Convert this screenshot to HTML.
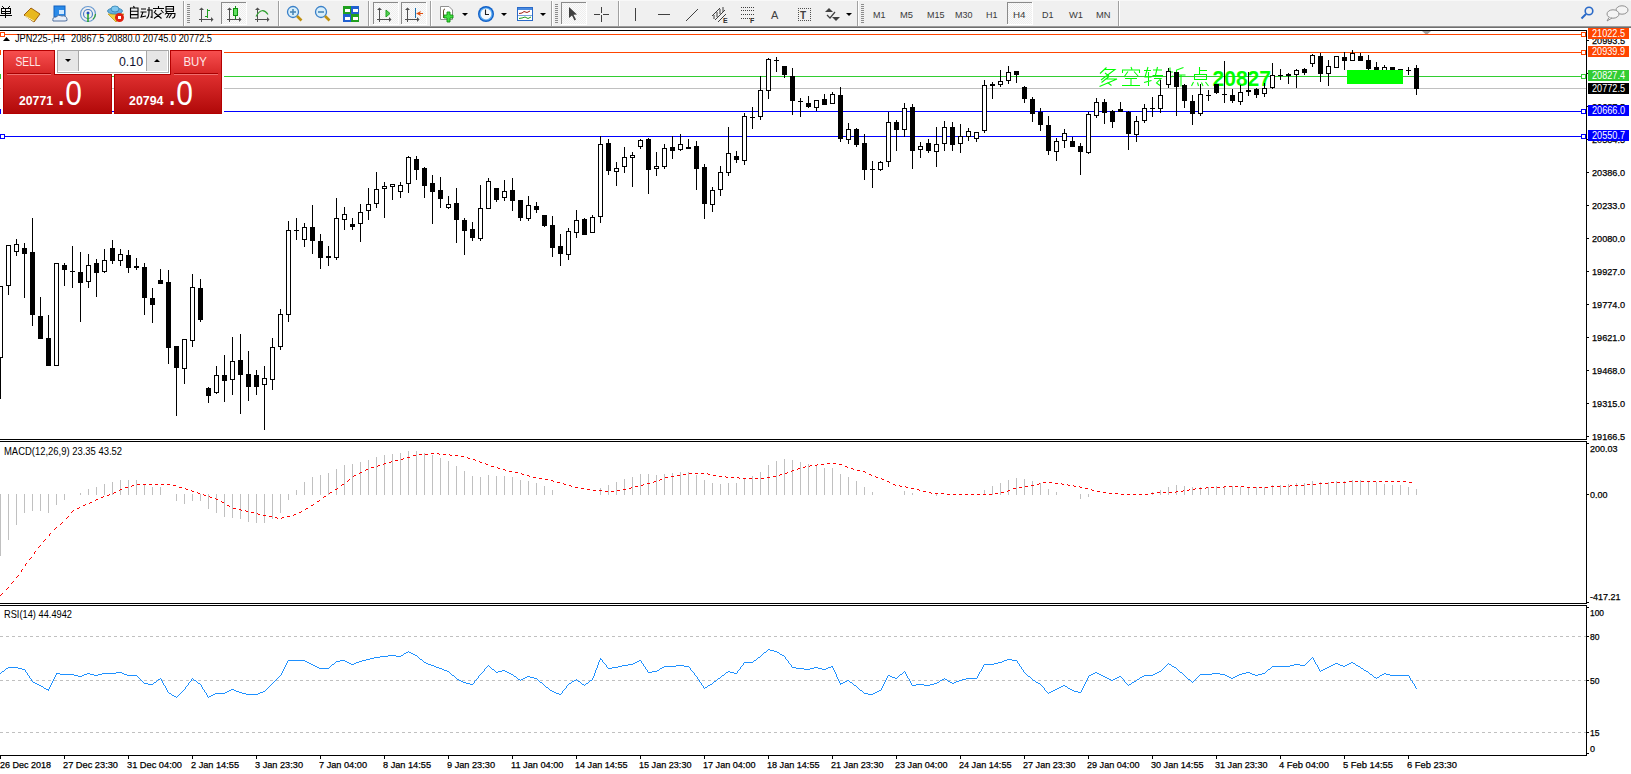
<!DOCTYPE html>
<html><head><meta charset="utf-8">
<style>
html,body{margin:0;padding:0;background:#fff;width:1631px;height:774px;overflow:hidden}
svg{position:absolute;left:0;top:0;display:block}
text{font-family:'Liberation Sans',sans-serif}
.ax text{stroke:#000;stroke-width:0.25px}
</style></head><body>
<svg width="1631" height="774" viewBox="0 0 1631 774" shape-rendering="crispEdges">

<rect x="0" y="0" width="1631" height="26" fill="#f0f0f0"/>
<rect x="0" y="0" width="1631" height="1" fill="#f8f8f8"/>
<rect x="0" y="26" width="1631" height="1" fill="#9a9a9a"/>
<rect x="0" y="27" width="1631" height="1" fill="#6e6e6e"/>
<defs><pattern id="chk" x="0" y="0" width="2" height="2" patternUnits="userSpaceOnUse"><rect width="2" height="2" fill="#fbfbfb"/><rect width="1" height="1" fill="#eeeeee"/><rect x="1" y="1" width="1" height="1" fill="#eeeeee"/></pattern></defs>
<rect x="183" y="1" width="1" height="25" fill="#a0a0a0"/><rect x="184" y="1" width="1" height="25" fill="#ffffff"/>
<rect x="278" y="1" width="1" height="25" fill="#a0a0a0"/><rect x="279" y="1" width="1" height="25" fill="#ffffff"/>
<rect x="368" y="1" width="1" height="25" fill="#a0a0a0"/><rect x="369" y="1" width="1" height="25" fill="#ffffff"/>
<rect x="430" y="1" width="1" height="25" fill="#a0a0a0"/><rect x="431" y="1" width="1" height="25" fill="#ffffff"/>
<rect x="551" y="1" width="1" height="25" fill="#a0a0a0"/><rect x="552" y="1" width="1" height="25" fill="#ffffff"/>
<rect x="618" y="1" width="1" height="25" fill="#a0a0a0"/><rect x="619" y="1" width="1" height="25" fill="#ffffff"/>
<rect x="857" y="1" width="1" height="25" fill="#a0a0a0"/><rect x="858" y="1" width="1" height="25" fill="#ffffff"/>
<rect x="1118" y="1" width="1" height="25" fill="#a0a0a0"/><rect x="1119" y="1" width="1" height="25" fill="#ffffff"/>
<rect x="187" y="4" width="3" height="1" fill="#8c8c8c"/>
<rect x="187" y="6" width="3" height="1" fill="#8c8c8c"/>
<rect x="187" y="8" width="3" height="1" fill="#8c8c8c"/>
<rect x="187" y="10" width="3" height="1" fill="#8c8c8c"/>
<rect x="187" y="12" width="3" height="1" fill="#8c8c8c"/>
<rect x="187" y="14" width="3" height="1" fill="#8c8c8c"/>
<rect x="187" y="16" width="3" height="1" fill="#8c8c8c"/>
<rect x="187" y="18" width="3" height="1" fill="#8c8c8c"/>
<rect x="187" y="20" width="3" height="1" fill="#8c8c8c"/>
<rect x="187" y="22" width="3" height="1" fill="#8c8c8c"/>
<rect x="555" y="4" width="3" height="1" fill="#8c8c8c"/>
<rect x="555" y="6" width="3" height="1" fill="#8c8c8c"/>
<rect x="555" y="8" width="3" height="1" fill="#8c8c8c"/>
<rect x="555" y="10" width="3" height="1" fill="#8c8c8c"/>
<rect x="555" y="12" width="3" height="1" fill="#8c8c8c"/>
<rect x="555" y="14" width="3" height="1" fill="#8c8c8c"/>
<rect x="555" y="16" width="3" height="1" fill="#8c8c8c"/>
<rect x="555" y="18" width="3" height="1" fill="#8c8c8c"/>
<rect x="555" y="20" width="3" height="1" fill="#8c8c8c"/>
<rect x="555" y="22" width="3" height="1" fill="#8c8c8c"/>
<rect x="861" y="4" width="3" height="1" fill="#8c8c8c"/>
<rect x="861" y="6" width="3" height="1" fill="#8c8c8c"/>
<rect x="861" y="8" width="3" height="1" fill="#8c8c8c"/>
<rect x="861" y="10" width="3" height="1" fill="#8c8c8c"/>
<rect x="861" y="12" width="3" height="1" fill="#8c8c8c"/>
<rect x="861" y="14" width="3" height="1" fill="#8c8c8c"/>
<rect x="861" y="16" width="3" height="1" fill="#8c8c8c"/>
<rect x="861" y="18" width="3" height="1" fill="#8c8c8c"/>
<rect x="861" y="20" width="3" height="1" fill="#8c8c8c"/>
<rect x="861" y="22" width="3" height="1" fill="#8c8c8c"/>
<rect x="221" y="2" width="26" height="23" fill="#ffffff"/><rect x="221" y="2" width="25" height="22" fill="url(#chk)"/>
<rect x="221" y="2" width="25" height="1" fill="#8a8a8a"/><rect x="221" y="2" width="1" height="22" fill="#8a8a8a"/>
<rect x="373" y="2" width="26" height="23" fill="#ffffff"/><rect x="373" y="2" width="25" height="22" fill="url(#chk)"/>
<rect x="373" y="2" width="25" height="1" fill="#8a8a8a"/><rect x="373" y="2" width="1" height="22" fill="#8a8a8a"/>
<rect x="401" y="2" width="26" height="23" fill="#ffffff"/><rect x="401" y="2" width="25" height="22" fill="url(#chk)"/>
<rect x="401" y="2" width="25" height="1" fill="#8a8a8a"/><rect x="401" y="2" width="1" height="22" fill="#8a8a8a"/>
<rect x="561" y="2" width="26" height="23" fill="#ffffff"/><rect x="561" y="2" width="25" height="22" fill="url(#chk)"/>
<rect x="561" y="2" width="25" height="1" fill="#8a8a8a"/><rect x="561" y="2" width="1" height="22" fill="#8a8a8a"/>
<rect x="1007" y="2" width="26" height="23" fill="#ffffff"/><rect x="1007" y="2" width="25" height="22" fill="url(#chk)"/>
<rect x="1007" y="2" width="25" height="1" fill="#8a8a8a"/><rect x="1007" y="2" width="1" height="22" fill="#8a8a8a"/>
<path d="M462 13 L468 13 L465 16 Z" fill="#000" shape-rendering="geometricPrecision"/>
<path d="M501 13 L507 13 L504 16 Z" fill="#000" shape-rendering="geometricPrecision"/>
<path d="M540 13 L546 13 L543 16 Z" fill="#000" shape-rendering="geometricPrecision"/>
<path d="M846 13 L852 13 L849 16 Z" fill="#000" shape-rendering="geometricPrecision"/>
<g fill="#000"><rect x="2" y="6" width="1" height="1"/><rect x="3" y="7" width="1" height="1"/><rect x="9" y="6" width="1" height="1"/><rect x="8" y="7" width="1" height="1"/><rect x="1" y="8" width="10" height="1"/><rect x="1" y="11" width="10" height="1"/><rect x="1" y="13" width="10" height="1"/><rect x="1" y="8" width="1" height="6"/><rect x="10" y="8" width="1" height="6"/><rect x="0" y="15" width="12" height="1"/><rect x="5" y="8" width="1" height="10"/></g>
<g shape-rendering="geometricPrecision"><path d="M24 15 L31 8 L40 14 L34 22 Z" fill="#e8b820" stroke="#a06010" stroke-width="1"/><path d="M25 16 L34 21" stroke="#fff3b0" stroke-width="1"/></g>
<g shape-rendering="geometricPrecision"><rect x="54" y="6" width="11" height="11" fill="#2a8ae8" stroke="#1060c0"/><rect x="59" y="10" width="5" height="4" fill="#d0e8ff"/><path d="M53 21 Q52 17 56 17 Q58 14 62 16 Q66 15 67 19 Q68 21 65 21 Z" fill="#e8eef8" stroke="#5070a0" stroke-width="1"/></g>
<g fill="none" shape-rendering="geometricPrecision"><circle cx="88" cy="14" r="7.5" stroke="#6a9ad0" stroke-width="1.2"/><circle cx="88" cy="14" r="4.5" stroke="#4a80c8" stroke-width="1.2"/><circle cx="88" cy="13" r="1.5" fill="#2050c0" stroke="none"/><path d="M88 14 V22" stroke="#20a020" stroke-width="1.5"/><path d="M93 19 A7.5 7.5 0 0 0 95.5 14" stroke="#30a030" stroke-width="1.2"/></g>
<g shape-rendering="geometricPrecision"><path d="M108 14 L116 22 L124 14 Z" fill="#f0d040" stroke="#c0a020" stroke-width="0.8"/><ellipse cx="115" cy="11" rx="7.5" ry="3" fill="#68b0e0" stroke="#3080b0" stroke-width="0.8"/><ellipse cx="115" cy="9" rx="4" ry="3" fill="#80c8f0" stroke="#3080b0" stroke-width="0.8"/><circle cx="119.5" cy="17.5" r="4.5" fill="#e02010"/><rect x="118" y="16" width="3" height="3" fill="#fff" shape-rendering="crispEdges"/></g>
<g stroke="#000" stroke-width="1.1" fill="none" shape-rendering="geometricPrecision"><path d="M130.5 8 V18 H138 V8 Z M130.5 11.3 H138 M130.5 14.6 H138 M133.5 6 L134.5 8"/><path d="M141 9 H146 M140.5 12 H146.5 M143 12 L141 17 L146 16 M149 7 V12 Q149 17 146.5 18.5 M147 10 H152 V17.5 L150.5 17"/><path d="M158.5 6 V8 M153 8.5 H164 M156 10 L154 13 M161 10 L163.5 13 M155 13 L161.5 18.5 M161.5 13 L154 18.5"/><path d="M166 6.5 H173.5 V11.5 H166 Z M166 9 H173.5 M167.5 11.5 L165 14.5 M166.5 13.5 H175 Q175 18.5 172 18 M169 14 L166.5 18 M171.5 14 L169 18"/></g>
<g fill="#505050"><rect x="201" y="9" width="1" height="13"/><rect x="199" y="19" width="13" height="1"/><path d="M199 10 L201.5 7.5 L204 10 Z" shape-rendering="geometricPrecision"/><path d="M211 17 L213.5 19.5 L211 22 Z" shape-rendering="geometricPrecision"/></g>
<g fill="#505050"><rect x="229" y="9" width="1" height="13"/><rect x="227" y="19" width="13" height="1"/><path d="M227 10 L229.5 7.5 L232 10 Z" shape-rendering="geometricPrecision"/><path d="M239 17 L241.5 19.5 L239 22 Z" shape-rendering="geometricPrecision"/></g>
<g fill="#505050"><rect x="257" y="9" width="1" height="13"/><rect x="255" y="19" width="13" height="1"/><path d="M255 10 L257.5 7.5 L260 10 Z" shape-rendering="geometricPrecision"/><path d="M267 17 L269.5 19.5 L267 22 Z" shape-rendering="geometricPrecision"/></g>
<g fill="#505050"><rect x="379" y="9" width="1" height="13"/><rect x="377" y="19" width="13" height="1"/><path d="M377 10 L379.5 7.5 L382 10 Z" shape-rendering="geometricPrecision"/><path d="M389 17 L391.5 19.5 L389 22 Z" shape-rendering="geometricPrecision"/></g>
<g fill="#505050"><rect x="407" y="9" width="1" height="13"/><rect x="405" y="19" width="13" height="1"/><path d="M405 10 L407.5 7.5 L410 10 Z" shape-rendering="geometricPrecision"/><path d="M417 17 L419.5 19.5 L417 22 Z" shape-rendering="geometricPrecision"/></g>
<g fill="#20a020"><rect x="207" y="9" width="1" height="9"/><rect x="205" y="16" width="2" height="1"/><rect x="208" y="10" width="2" height="1"/></g>
<rect x="235" y="6" width="1" height="13" fill="#109010"/><rect x="233" y="8" width="5" height="8" fill="#109010"/><rect x="234" y="9" width="3" height="6" fill="#60e060"/>
<path d="M256 16.5 Q262 6 268 14.5" stroke="#30a030" stroke-width="1.2" fill="none" shape-rendering="geometricPrecision"/>
<path d="M386 10 L390 13.5 L386 17 Z" fill="#50d050" stroke="#20a020" shape-rendering="geometricPrecision"/>
<rect x="415" y="8" width="1" height="10" fill="#1a70b0"/>
<path d="M416 13.5 L421 11 L420 13 H423 V14 H420 L421 16 Z" fill="#e05010" shape-rendering="geometricPrecision"/>
<g shape-rendering="geometricPrecision"><circle cx="293" cy="12" r="5.5" fill="#d8eefa" stroke="#3a80c8" stroke-width="1.3"/><path d="M297 16 L301.5 20.5" stroke="#c09010" stroke-width="2.6"/><path d="M290 12 H296" stroke="#4a88b8" stroke-width="1.6"/><path d="M293 9 V15" stroke="#4a88b8" stroke-width="1.6"/></g>
<g shape-rendering="geometricPrecision"><circle cx="321" cy="12" r="5.5" fill="#d8eefa" stroke="#3a80c8" stroke-width="1.3"/><path d="M325 16 L329.5 20.5" stroke="#c09010" stroke-width="2.6"/><path d="M318 12 H324" stroke="#4a88b8" stroke-width="1.6"/></g>
<rect x="343" y="6" width="8" height="8" fill="#20a020"/><rect x="351" y="6" width="8" height="8" fill="#2060d0"/><rect x="343" y="14" width="8" height="8" fill="#2060d0"/><rect x="351" y="14" width="8" height="8" fill="#20a020"/>
<g fill="#fff"><rect x="345" y="9" width="5" height="3"/><rect x="353" y="9" width="5" height="3"/><rect x="345" y="17" width="5" height="3"/><rect x="353" y="17" width="5" height="3"/></g>
<g shape-rendering="geometricPrecision"><path d="M440.5 6.5 H449 L452.5 10 V19.5 H440.5 Z" fill="#fff" stroke="#909090"/><path d="M445 9 Q443.5 9 443.5 11 V18" stroke="#605030" stroke-width="1" fill="none"/><path d="M447 12 H450 V15 H453 V18 H450 V22 H447 V18 H444 V15 H447 Z" fill="#40e040" stroke="#109010" stroke-width="0.9"/></g>
<g shape-rendering="geometricPrecision"><circle cx="486" cy="14" r="8" fill="#1060c8"/><circle cx="486" cy="14" r="6.6" fill="#58a8f0"/><circle cx="486" cy="14" r="5.4" fill="#f4f8fc"/><path d="M485.5 9.5 V14.5 H489" stroke="#202020" stroke-width="1.1" fill="none"/></g>
<g shape-rendering="geometricPrecision"><rect x="517.5" y="7.5" width="15" height="13" fill="#fff" stroke="#2a6ac8"/><rect x="518" y="8" width="14" height="2" fill="#4a8ae0"/><path d="M519 13.5 L522 13 L524 11.5 L527 12.5 L530 11" stroke="#a02010" stroke-width="1" fill="none"/><rect x="518" y="15" width="14" height="0.6" fill="#2a6ac8"/><path d="M519 18.5 L522 18 L525 17 L528 18.5 L531 17" stroke="#20a020" stroke-width="1" fill="none"/></g>
<path d="M569 7 V18 L572 15.5 L574.5 20.5 L576 19.5 L573.5 14.8 L577 14.5 Z" fill="#404040" shape-rendering="geometricPrecision"/>
<g fill="#404040"><rect x="601" y="7" width="1" height="6"/><rect x="601" y="15" width="1" height="7"/><rect x="594" y="14" width="6" height="1"/><rect x="603" y="14" width="6" height="1"/></g>
<rect x="635" y="8" width="1" height="13" fill="#404040"/>
<rect x="658" y="14" width="12" height="1" fill="#404040"/>
<path d="M686 21 L698 9" stroke="#404040" stroke-width="1" shape-rendering="geometricPrecision"/>
<g stroke="#404040" stroke-width="1" shape-rendering="geometricPrecision"><path d="M712 16 L720 8 M715 20 L725 10 M718 22 L726 14"/><path d="M714 15 V19 M717 12 V17 M720 9 V14 M723 7 V12"/></g><text x="723" y="23" font-size="7" font-weight="bold" fill="#303030">E</text>
<g fill="#404040"><rect x="741" y="7" width="1" height="1"/><rect x="743" y="7" width="1" height="1"/><rect x="745" y="7" width="1" height="1"/><rect x="747" y="7" width="1" height="1"/><rect x="749" y="7" width="1" height="1"/><rect x="751" y="7" width="1" height="1"/><rect x="753" y="7" width="1" height="1"/><rect x="741" y="10" width="1" height="1"/><rect x="743" y="10" width="1" height="1"/><rect x="745" y="10" width="1" height="1"/><rect x="747" y="10" width="1" height="1"/><rect x="749" y="10" width="1" height="1"/><rect x="751" y="10" width="1" height="1"/><rect x="753" y="10" width="1" height="1"/><rect x="741" y="14" width="1" height="1"/><rect x="743" y="14" width="1" height="1"/><rect x="745" y="14" width="1" height="1"/><rect x="747" y="14" width="1" height="1"/><rect x="749" y="14" width="1" height="1"/><rect x="751" y="14" width="1" height="1"/><rect x="753" y="14" width="1" height="1"/><rect x="741" y="18" width="1" height="1"/><rect x="743" y="18" width="1" height="1"/><rect x="745" y="18" width="1" height="1"/><rect x="747" y="18" width="1" height="1"/><rect x="749" y="18" width="1" height="1"/><rect x="751" y="18" width="1" height="1"/><rect x="753" y="18" width="1" height="1"/></g>
<text x="750" y="23" font-size="7" font-weight="bold" fill="#303030">F</text>
<text x="771" y="19" font-size="11" fill="#404040">A</text>
<g fill="#505050"><rect x="798" y="8" width="1" height="1"/><rect x="798" y="20" width="1" height="1"/><rect x="800" y="8" width="1" height="1"/><rect x="800" y="20" width="1" height="1"/><rect x="802" y="8" width="1" height="1"/><rect x="802" y="20" width="1" height="1"/><rect x="804" y="8" width="1" height="1"/><rect x="804" y="20" width="1" height="1"/><rect x="806" y="8" width="1" height="1"/><rect x="806" y="20" width="1" height="1"/><rect x="808" y="8" width="1" height="1"/><rect x="808" y="20" width="1" height="1"/><rect x="810" y="8" width="1" height="1"/><rect x="810" y="20" width="1" height="1"/><rect x="798" y="8" width="1" height="1"/><rect x="810" y="8" width="1" height="1"/><rect x="798" y="10" width="1" height="1"/><rect x="810" y="10" width="1" height="1"/><rect x="798" y="12" width="1" height="1"/><rect x="810" y="12" width="1" height="1"/><rect x="798" y="14" width="1" height="1"/><rect x="810" y="14" width="1" height="1"/><rect x="798" y="16" width="1" height="1"/><rect x="810" y="16" width="1" height="1"/><rect x="798" y="18" width="1" height="1"/><rect x="810" y="18" width="1" height="1"/><rect x="798" y="20" width="1" height="1"/><rect x="810" y="20" width="1" height="1"/></g>
<text x="800" y="18.5" font-size="10" font-weight="bold" fill="#404040">T</text>
<g fill="#404040" shape-rendering="geometricPrecision"><path d="M825 12 L829 8 L833 12 Z"/><path d="M832 17 L836 21 L840 17 Z"/><path d="M827 15 L830 18 L835 12" stroke="#404040" stroke-width="1.2" fill="none"/></g>
<text x="873" y="18" font-size="9.6" fill="#3a3a3a" textLength="12.5" lengthAdjust="spacingAndGlyphs">M1</text>
<text x="900" y="18" font-size="9.6" fill="#3a3a3a" textLength="13" lengthAdjust="spacingAndGlyphs">M5</text>
<text x="927" y="18" font-size="9.6" fill="#3a3a3a" textLength="17.5" lengthAdjust="spacingAndGlyphs">M15</text>
<text x="955" y="18" font-size="9.6" fill="#3a3a3a" textLength="17.5" lengthAdjust="spacingAndGlyphs">M30</text>
<text x="986" y="18" font-size="9.6" fill="#3a3a3a" textLength="11.5" lengthAdjust="spacingAndGlyphs">H1</text>
<text x="1013" y="18" font-size="9.6" fill="#3a3a3a" textLength="12.5" lengthAdjust="spacingAndGlyphs">H4</text>
<text x="1042" y="18" font-size="9.6" fill="#3a3a3a" textLength="11.5" lengthAdjust="spacingAndGlyphs">D1</text>
<text x="1069" y="18" font-size="9.6" fill="#3a3a3a" textLength="14" lengthAdjust="spacingAndGlyphs">W1</text>
<text x="1096" y="18" font-size="9.6" fill="#3a3a3a" textLength="14.5" lengthAdjust="spacingAndGlyphs">MN</text>
<g shape-rendering="geometricPrecision"><circle cx="1589" cy="11" r="3.8" fill="none" stroke="#2a6ac8" stroke-width="1.6"/><path d="M1586 14 L1581.5 18.5" stroke="#2a6ac8" stroke-width="2"/></g>
<g shape-rendering="geometricPrecision" fill="#f4f4f4" stroke="#909090" stroke-width="1"><ellipse cx="1622" cy="10" rx="6" ry="4.2"/><ellipse cx="1613" cy="14" rx="6" ry="4.2"/><path d="M1609 17.5 L1607 21 L1612 18"/></g>
<rect x="0" y="30" width="1587" height="1" fill="#000"/>
<rect x="0" y="439" width="1587" height="1" fill="#000"/>
<rect x="0" y="441" width="1587" height="1" fill="#000"/>
<rect x="0" y="603" width="1587" height="1" fill="#000"/>
<rect x="0" y="605" width="1587" height="1" fill="#000"/>
<rect x="0" y="755" width="1587" height="1" fill="#000"/>
<rect x="1586" y="30" width="1" height="410" fill="#000"/>
<rect x="1586" y="441" width="1" height="163" fill="#000"/>
<rect x="1586" y="605" width="1" height="151" fill="#000"/>
<path d="M1422 31 L1431 31 L1426.5 35 Z" fill="#a0a0a0" shape-rendering="geometricPrecision"/>
<rect x="0" y="34" width="1586" height="1" fill="#ff4500"/>
<rect x="0" y="52" width="1586" height="1" fill="#ff4500"/>
<rect x="0" y="76" width="1586" height="1" fill="#32cd32"/>
<rect x="0" y="88" width="1586" height="1" fill="#c0c0c0"/>
<rect x="0" y="111" width="1586" height="1" fill="#0000ff"/>
<rect x="0" y="136" width="1586" height="1" fill="#0000ff"/>
<g fill="none" stroke="#00ff00" stroke-width="1.05" shape-rendering="geometricPrecision">
<path transform="translate(1099 67)" d="M7.5 0.5 L1 6.5 M5.5 2.5 H16 L2 13 M6 6 L10 9 M10 9.5 L2.5 15.5 M7.5 12 H18 L0.5 19.5 M8.5 15.5 L12.5 18.5"/>
<path transform="translate(1121.5 67)" d="M9.5 0 L10.5 2.5 M1 6 V3 H18 V6 M6.5 4.5 L2.5 10 M12.5 4.5 L17 9.5 M3.5 11.5 H15.5 M9.5 11.5 V18.5 M0.5 18.5 H18.5"/>
<path transform="translate(1144 67)" d="M0 3.5 H7 M4 0 L1 10 H7.5 M4.5 5 V19 M0 15.5 L7.5 13.5 M9 3 H18 M13.5 0 L11 10 M8.5 8.5 H19 M10 11.5 H17 L12.5 16 L16 18.5"/>
<path transform="translate(1166 67)" d="M0 5 H7 M4 0.5 V17.5 L2 16.5 M0 12 L7 9 M17.5 0.5 L10.5 3 V12 L8.5 19 M10.5 8 H19.5 M15 8 V19.5"/>
<path transform="translate(1191 67)" d="M8.5 0 V7 M8.5 3.5 H16 M3.5 7.5 H15.5 V12.5 H3.5 Z M2.5 15 L0.5 19 M6.5 15.5 L7.5 19 M10.5 15.5 L12 19 M14.5 15 L17.5 19"/>
</g>
<text x="1212.5" y="85.5" font-size="22" font-weight="bold" fill="#00ff00" textLength="58.5" lengthAdjust="spacingAndGlyphs" shape-rendering="geometricPrecision">20827</text>
<rect x="0" y="286" width="1" height="113" fill="#000"/>
<rect x="-2" y="286" width="5" height="72" fill="#000"/>
<rect x="-1" y="287" width="3" height="70" fill="#fff"/>
<rect x="8" y="245" width="1" height="50" fill="#000"/>
<rect x="6" y="245" width="5" height="41" fill="#000"/>
<rect x="7" y="246" width="3" height="39" fill="#fff"/>
<rect x="16" y="239" width="1" height="17" fill="#000"/>
<rect x="14" y="244" width="5" height="8" fill="#000"/>
<rect x="15" y="245" width="3" height="6" fill="#fff"/>
<rect x="24" y="243" width="1" height="55" fill="#000"/>
<rect x="22" y="248" width="5" height="6" fill="#000"/>
<rect x="32" y="218" width="1" height="108" fill="#000"/>
<rect x="30" y="252" width="5" height="63" fill="#000"/>
<rect x="40" y="297" width="1" height="42" fill="#000"/>
<rect x="38" y="316" width="5" height="23" fill="#000"/>
<rect x="48" y="315" width="1" height="51" fill="#000"/>
<rect x="46" y="338" width="5" height="28" fill="#000"/>
<rect x="56" y="263" width="1" height="103" fill="#000"/>
<rect x="54" y="263" width="5" height="103" fill="#000"/>
<rect x="55" y="264" width="3" height="101" fill="#fff"/>
<rect x="64" y="263" width="1" height="23" fill="#000"/>
<rect x="62" y="265" width="5" height="5" fill="#000"/>
<rect x="72" y="246" width="1" height="42" fill="#000"/>
<rect x="70" y="271" width="5" height="1" fill="#000"/>
<rect x="80" y="252" width="1" height="70" fill="#000"/>
<rect x="78" y="272" width="5" height="11" fill="#000"/>
<rect x="88" y="254" width="1" height="34" fill="#000"/>
<rect x="86" y="265" width="5" height="17" fill="#000"/>
<rect x="87" y="266" width="3" height="15" fill="#fff"/>
<rect x="96" y="259" width="1" height="38" fill="#000"/>
<rect x="94" y="263" width="5" height="10" fill="#000"/>
<rect x="104" y="249" width="1" height="24" fill="#000"/>
<rect x="102" y="260" width="5" height="12" fill="#000"/>
<rect x="103" y="261" width="3" height="10" fill="#fff"/>
<rect x="112" y="240" width="1" height="24" fill="#000"/>
<rect x="110" y="248" width="5" height="13" fill="#000"/>
<rect x="120" y="249" width="1" height="17" fill="#000"/>
<rect x="118" y="254" width="5" height="7" fill="#000"/>
<rect x="119" y="255" width="3" height="5" fill="#fff"/>
<rect x="128" y="250" width="1" height="23" fill="#000"/>
<rect x="126" y="255" width="5" height="13" fill="#000"/>
<rect x="136" y="258" width="1" height="12" fill="#000"/>
<rect x="134" y="266" width="5" height="2" fill="#000"/>
<rect x="144" y="263" width="1" height="52" fill="#000"/>
<rect x="142" y="267" width="5" height="31" fill="#000"/>
<rect x="152" y="288" width="1" height="35" fill="#000"/>
<rect x="150" y="298" width="5" height="7" fill="#000"/>
<rect x="160" y="269" width="1" height="15" fill="#000"/>
<rect x="158" y="280" width="5" height="4" fill="#000"/>
<rect x="168" y="270" width="1" height="94" fill="#000"/>
<rect x="166" y="282" width="5" height="66" fill="#000"/>
<rect x="176" y="346" width="1" height="70" fill="#000"/>
<rect x="174" y="346" width="5" height="22" fill="#000"/>
<rect x="184" y="339" width="1" height="45" fill="#000"/>
<rect x="182" y="339" width="5" height="30" fill="#000"/>
<rect x="183" y="340" width="3" height="28" fill="#fff"/>
<rect x="192" y="274" width="1" height="73" fill="#000"/>
<rect x="190" y="287" width="5" height="54" fill="#000"/>
<rect x="191" y="288" width="3" height="52" fill="#fff"/>
<rect x="200" y="279" width="1" height="43" fill="#000"/>
<rect x="198" y="288" width="5" height="32" fill="#000"/>
<rect x="208" y="387" width="1" height="16" fill="#000"/>
<rect x="206" y="388" width="5" height="8" fill="#000"/>
<rect x="216" y="366" width="1" height="28" fill="#000"/>
<rect x="214" y="375" width="5" height="18" fill="#000"/>
<rect x="215" y="376" width="3" height="16" fill="#fff"/>
<rect x="224" y="355" width="1" height="47" fill="#000"/>
<rect x="222" y="375" width="5" height="6" fill="#000"/>
<rect x="232" y="337" width="1" height="58" fill="#000"/>
<rect x="230" y="361" width="5" height="19" fill="#000"/>
<rect x="231" y="362" width="3" height="17" fill="#fff"/>
<rect x="240" y="334" width="1" height="80" fill="#000"/>
<rect x="238" y="360" width="5" height="15" fill="#000"/>
<rect x="248" y="351" width="1" height="50" fill="#000"/>
<rect x="246" y="374" width="5" height="13" fill="#000"/>
<rect x="256" y="370" width="1" height="25" fill="#000"/>
<rect x="254" y="375" width="5" height="12" fill="#000"/>
<rect x="264" y="366" width="1" height="64" fill="#000"/>
<rect x="262" y="378" width="5" height="7" fill="#000"/>
<rect x="263" y="379" width="3" height="5" fill="#fff"/>
<rect x="272" y="338" width="1" height="52" fill="#000"/>
<rect x="270" y="347" width="5" height="33" fill="#000"/>
<rect x="271" y="348" width="3" height="31" fill="#fff"/>
<rect x="280" y="309" width="1" height="41" fill="#000"/>
<rect x="278" y="314" width="5" height="33" fill="#000"/>
<rect x="279" y="315" width="3" height="31" fill="#fff"/>
<rect x="288" y="221" width="1" height="101" fill="#000"/>
<rect x="286" y="230" width="5" height="85" fill="#000"/>
<rect x="287" y="231" width="3" height="83" fill="#fff"/>
<rect x="296" y="218" width="1" height="22" fill="#000"/>
<rect x="294" y="230" width="5" height="1" fill="#000"/>
<rect x="304" y="223" width="1" height="24" fill="#000"/>
<rect x="302" y="227" width="5" height="13" fill="#000"/>
<rect x="303" y="228" width="3" height="11" fill="#fff"/>
<rect x="312" y="205" width="1" height="49" fill="#000"/>
<rect x="310" y="227" width="5" height="14" fill="#000"/>
<rect x="320" y="234" width="1" height="35" fill="#000"/>
<rect x="318" y="241" width="5" height="17" fill="#000"/>
<rect x="328" y="246" width="1" height="20" fill="#000"/>
<rect x="326" y="256" width="5" height="2" fill="#000"/>
<rect x="336" y="198" width="1" height="62" fill="#000"/>
<rect x="334" y="218" width="5" height="40" fill="#000"/>
<rect x="335" y="219" width="3" height="38" fill="#fff"/>
<rect x="344" y="207" width="1" height="23" fill="#000"/>
<rect x="342" y="214" width="5" height="6" fill="#000"/>
<rect x="343" y="215" width="3" height="4" fill="#fff"/>
<rect x="352" y="218" width="1" height="12" fill="#000"/>
<rect x="350" y="224" width="5" height="3" fill="#000"/>
<rect x="360" y="204" width="1" height="38" fill="#000"/>
<rect x="358" y="212" width="5" height="12" fill="#000"/>
<rect x="359" y="213" width="3" height="10" fill="#fff"/>
<rect x="368" y="188" width="1" height="32" fill="#000"/>
<rect x="366" y="204" width="5" height="7" fill="#000"/>
<rect x="367" y="205" width="3" height="5" fill="#fff"/>
<rect x="376" y="172" width="1" height="36" fill="#000"/>
<rect x="374" y="189" width="5" height="15" fill="#000"/>
<rect x="375" y="190" width="3" height="13" fill="#fff"/>
<rect x="384" y="182" width="1" height="36" fill="#000"/>
<rect x="382" y="186" width="5" height="3" fill="#000"/>
<rect x="383" y="187" width="3" height="1" fill="#fff"/>
<rect x="392" y="184" width="1" height="16" fill="#000"/>
<rect x="390" y="184" width="5" height="3" fill="#000"/>
<rect x="391" y="185" width="3" height="1" fill="#fff"/>
<rect x="400" y="182" width="1" height="16" fill="#000"/>
<rect x="398" y="185" width="5" height="7" fill="#000"/>
<rect x="399" y="186" width="3" height="5" fill="#fff"/>
<rect x="408" y="156" width="1" height="37" fill="#000"/>
<rect x="406" y="157" width="5" height="27" fill="#000"/>
<rect x="407" y="158" width="3" height="25" fill="#fff"/>
<rect x="416" y="156" width="1" height="24" fill="#000"/>
<rect x="414" y="159" width="5" height="11" fill="#000"/>
<rect x="424" y="167" width="1" height="31" fill="#000"/>
<rect x="422" y="168" width="5" height="18" fill="#000"/>
<rect x="432" y="175" width="1" height="49" fill="#000"/>
<rect x="430" y="183" width="5" height="9" fill="#000"/>
<rect x="440" y="177" width="1" height="31" fill="#000"/>
<rect x="438" y="190" width="5" height="9" fill="#000"/>
<rect x="448" y="196" width="1" height="13" fill="#000"/>
<rect x="446" y="204" width="5" height="4" fill="#000"/>
<rect x="447" y="205" width="3" height="2" fill="#fff"/>
<rect x="456" y="188" width="1" height="55" fill="#000"/>
<rect x="454" y="203" width="5" height="17" fill="#000"/>
<rect x="464" y="218" width="1" height="37" fill="#000"/>
<rect x="462" y="220" width="5" height="11" fill="#000"/>
<rect x="472" y="222" width="1" height="19" fill="#000"/>
<rect x="470" y="229" width="5" height="9" fill="#000"/>
<rect x="480" y="185" width="1" height="56" fill="#000"/>
<rect x="478" y="208" width="5" height="31" fill="#000"/>
<rect x="479" y="209" width="3" height="29" fill="#fff"/>
<rect x="488" y="178" width="1" height="31" fill="#000"/>
<rect x="486" y="181" width="5" height="28" fill="#000"/>
<rect x="487" y="182" width="3" height="26" fill="#fff"/>
<rect x="496" y="188" width="1" height="14" fill="#000"/>
<rect x="494" y="188" width="5" height="12" fill="#000"/>
<rect x="504" y="180" width="1" height="21" fill="#000"/>
<rect x="502" y="191" width="5" height="7" fill="#000"/>
<rect x="503" y="192" width="3" height="5" fill="#fff"/>
<rect x="512" y="178" width="1" height="33" fill="#000"/>
<rect x="510" y="190" width="5" height="11" fill="#000"/>
<rect x="520" y="200" width="1" height="21" fill="#000"/>
<rect x="518" y="200" width="5" height="18" fill="#000"/>
<rect x="528" y="196" width="1" height="25" fill="#000"/>
<rect x="526" y="205" width="5" height="14" fill="#000"/>
<rect x="527" y="206" width="3" height="12" fill="#fff"/>
<rect x="536" y="202" width="1" height="11" fill="#000"/>
<rect x="534" y="206" width="5" height="4" fill="#000"/>
<rect x="544" y="215" width="1" height="12" fill="#000"/>
<rect x="542" y="215" width="5" height="11" fill="#000"/>
<rect x="552" y="216" width="1" height="41" fill="#000"/>
<rect x="550" y="225" width="5" height="23" fill="#000"/>
<rect x="560" y="234" width="1" height="32" fill="#000"/>
<rect x="558" y="246" width="5" height="8" fill="#000"/>
<rect x="568" y="228" width="1" height="32" fill="#000"/>
<rect x="566" y="231" width="5" height="24" fill="#000"/>
<rect x="567" y="232" width="3" height="22" fill="#fff"/>
<rect x="576" y="210" width="1" height="28" fill="#000"/>
<rect x="574" y="220" width="5" height="13" fill="#000"/>
<rect x="575" y="221" width="3" height="11" fill="#fff"/>
<rect x="584" y="218" width="1" height="17" fill="#000"/>
<rect x="582" y="219" width="5" height="16" fill="#000"/>
<rect x="592" y="215" width="1" height="18" fill="#000"/>
<rect x="590" y="217" width="5" height="16" fill="#000"/>
<rect x="591" y="218" width="3" height="14" fill="#fff"/>
<rect x="600" y="136" width="1" height="87" fill="#000"/>
<rect x="598" y="144" width="5" height="73" fill="#000"/>
<rect x="599" y="145" width="3" height="71" fill="#fff"/>
<rect x="608" y="139" width="1" height="36" fill="#000"/>
<rect x="606" y="143" width="5" height="28" fill="#000"/>
<rect x="616" y="162" width="1" height="24" fill="#000"/>
<rect x="614" y="168" width="5" height="4" fill="#000"/>
<rect x="615" y="169" width="3" height="2" fill="#fff"/>
<rect x="624" y="147" width="1" height="26" fill="#000"/>
<rect x="622" y="157" width="5" height="10" fill="#000"/>
<rect x="623" y="158" width="3" height="8" fill="#fff"/>
<rect x="632" y="152" width="1" height="35" fill="#000"/>
<rect x="630" y="155" width="5" height="3" fill="#000"/>
<rect x="631" y="156" width="3" height="1" fill="#fff"/>
<rect x="640" y="139" width="1" height="10" fill="#000"/>
<rect x="638" y="140" width="5" height="7" fill="#000"/>
<rect x="639" y="141" width="3" height="5" fill="#fff"/>
<rect x="648" y="138" width="1" height="56" fill="#000"/>
<rect x="646" y="139" width="5" height="31" fill="#000"/>
<rect x="656" y="152" width="1" height="24" fill="#000"/>
<rect x="654" y="166" width="5" height="3" fill="#000"/>
<rect x="655" y="167" width="3" height="1" fill="#fff"/>
<rect x="664" y="144" width="1" height="25" fill="#000"/>
<rect x="662" y="148" width="5" height="19" fill="#000"/>
<rect x="663" y="149" width="3" height="17" fill="#fff"/>
<rect x="672" y="136" width="1" height="23" fill="#000"/>
<rect x="670" y="147" width="5" height="4" fill="#000"/>
<rect x="680" y="134" width="1" height="17" fill="#000"/>
<rect x="678" y="144" width="5" height="6" fill="#000"/>
<rect x="679" y="145" width="3" height="4" fill="#fff"/>
<rect x="688" y="139" width="1" height="10" fill="#000"/>
<rect x="686" y="147" width="5" height="2" fill="#000"/>
<rect x="696" y="141" width="1" height="49" fill="#000"/>
<rect x="694" y="146" width="5" height="23" fill="#000"/>
<rect x="704" y="164" width="1" height="55" fill="#000"/>
<rect x="702" y="167" width="5" height="37" fill="#000"/>
<rect x="712" y="187" width="1" height="25" fill="#000"/>
<rect x="710" y="190" width="5" height="15" fill="#000"/>
<rect x="711" y="191" width="3" height="13" fill="#fff"/>
<rect x="720" y="166" width="1" height="30" fill="#000"/>
<rect x="718" y="172" width="5" height="18" fill="#000"/>
<rect x="719" y="173" width="3" height="16" fill="#fff"/>
<rect x="728" y="127" width="1" height="49" fill="#000"/>
<rect x="726" y="153" width="5" height="20" fill="#000"/>
<rect x="727" y="154" width="3" height="18" fill="#fff"/>
<rect x="736" y="151" width="1" height="12" fill="#000"/>
<rect x="734" y="156" width="5" height="4" fill="#000"/>
<rect x="744" y="113" width="1" height="52" fill="#000"/>
<rect x="742" y="116" width="5" height="45" fill="#000"/>
<rect x="743" y="117" width="3" height="43" fill="#fff"/>
<rect x="752" y="107" width="1" height="22" fill="#000"/>
<rect x="750" y="117" width="5" height="1" fill="#000"/>
<rect x="760" y="76" width="1" height="44" fill="#000"/>
<rect x="758" y="90" width="5" height="27" fill="#000"/>
<rect x="759" y="91" width="3" height="25" fill="#fff"/>
<rect x="768" y="58" width="1" height="41" fill="#000"/>
<rect x="766" y="59" width="5" height="32" fill="#000"/>
<rect x="767" y="60" width="3" height="30" fill="#fff"/>
<rect x="776" y="57" width="1" height="15" fill="#000"/>
<rect x="774" y="60" width="5" height="1" fill="#000"/>
<rect x="784" y="66" width="1" height="12" fill="#000"/>
<rect x="782" y="66" width="5" height="9" fill="#000"/>
<rect x="792" y="68" width="1" height="47" fill="#000"/>
<rect x="790" y="76" width="5" height="25" fill="#000"/>
<rect x="800" y="98" width="1" height="19" fill="#000"/>
<rect x="798" y="101" width="5" height="1" fill="#000"/>
<rect x="808" y="96" width="1" height="12" fill="#000"/>
<rect x="806" y="103" width="5" height="4" fill="#000"/>
<rect x="816" y="100" width="1" height="11" fill="#000"/>
<rect x="814" y="100" width="5" height="8" fill="#000"/>
<rect x="815" y="101" width="3" height="6" fill="#fff"/>
<rect x="824" y="94" width="1" height="11" fill="#000"/>
<rect x="822" y="99" width="5" height="6" fill="#000"/>
<rect x="832" y="92" width="1" height="12" fill="#000"/>
<rect x="830" y="94" width="5" height="10" fill="#000"/>
<rect x="831" y="95" width="3" height="8" fill="#fff"/>
<rect x="840" y="87" width="1" height="55" fill="#000"/>
<rect x="838" y="95" width="5" height="44" fill="#000"/>
<rect x="848" y="123" width="1" height="21" fill="#000"/>
<rect x="846" y="129" width="5" height="11" fill="#000"/>
<rect x="847" y="130" width="3" height="9" fill="#fff"/>
<rect x="856" y="128" width="1" height="19" fill="#000"/>
<rect x="854" y="129" width="5" height="16" fill="#000"/>
<rect x="864" y="134" width="1" height="46" fill="#000"/>
<rect x="862" y="143" width="5" height="27" fill="#000"/>
<rect x="872" y="161" width="1" height="27" fill="#000"/>
<rect x="870" y="169" width="5" height="1" fill="#000"/>
<rect x="880" y="161" width="1" height="10" fill="#000"/>
<rect x="878" y="162" width="5" height="8" fill="#000"/>
<rect x="879" y="163" width="3" height="6" fill="#fff"/>
<rect x="888" y="112" width="1" height="55" fill="#000"/>
<rect x="886" y="122" width="5" height="40" fill="#000"/>
<rect x="887" y="123" width="3" height="38" fill="#fff"/>
<rect x="896" y="120" width="1" height="31" fill="#000"/>
<rect x="894" y="122" width="5" height="8" fill="#000"/>
<rect x="904" y="103" width="1" height="34" fill="#000"/>
<rect x="902" y="108" width="5" height="22" fill="#000"/>
<rect x="903" y="109" width="3" height="20" fill="#fff"/>
<rect x="912" y="104" width="1" height="65" fill="#000"/>
<rect x="910" y="107" width="5" height="44" fill="#000"/>
<rect x="920" y="142" width="1" height="16" fill="#000"/>
<rect x="918" y="146" width="5" height="4" fill="#000"/>
<rect x="919" y="147" width="3" height="2" fill="#fff"/>
<rect x="928" y="139" width="1" height="14" fill="#000"/>
<rect x="926" y="143" width="5" height="8" fill="#000"/>
<rect x="936" y="127" width="1" height="40" fill="#000"/>
<rect x="934" y="144" width="5" height="8" fill="#000"/>
<rect x="935" y="145" width="3" height="6" fill="#fff"/>
<rect x="944" y="121" width="1" height="30" fill="#000"/>
<rect x="942" y="127" width="5" height="17" fill="#000"/>
<rect x="943" y="128" width="3" height="15" fill="#fff"/>
<rect x="952" y="122" width="1" height="29" fill="#000"/>
<rect x="950" y="127" width="5" height="18" fill="#000"/>
<rect x="960" y="124" width="1" height="29" fill="#000"/>
<rect x="958" y="136" width="5" height="8" fill="#000"/>
<rect x="959" y="137" width="3" height="6" fill="#fff"/>
<rect x="968" y="128" width="1" height="13" fill="#000"/>
<rect x="966" y="131" width="5" height="6" fill="#000"/>
<rect x="967" y="132" width="3" height="4" fill="#fff"/>
<rect x="976" y="132" width="1" height="10" fill="#000"/>
<rect x="974" y="132" width="5" height="7" fill="#000"/>
<rect x="975" y="133" width="3" height="5" fill="#fff"/>
<rect x="984" y="80" width="1" height="53" fill="#000"/>
<rect x="982" y="85" width="5" height="46" fill="#000"/>
<rect x="983" y="86" width="3" height="44" fill="#fff"/>
<rect x="992" y="82" width="1" height="17" fill="#000"/>
<rect x="990" y="84" width="5" height="2" fill="#000"/>
<rect x="1000" y="70" width="1" height="17" fill="#000"/>
<rect x="998" y="81" width="5" height="4" fill="#000"/>
<rect x="999" y="82" width="3" height="2" fill="#fff"/>
<rect x="1008" y="66" width="1" height="18" fill="#000"/>
<rect x="1006" y="72" width="5" height="9" fill="#000"/>
<rect x="1007" y="73" width="3" height="7" fill="#fff"/>
<rect x="1016" y="71" width="1" height="12" fill="#000"/>
<rect x="1014" y="71" width="5" height="4" fill="#000"/>
<rect x="1024" y="86" width="1" height="17" fill="#000"/>
<rect x="1022" y="87" width="5" height="12" fill="#000"/>
<rect x="1032" y="97" width="1" height="25" fill="#000"/>
<rect x="1030" y="99" width="5" height="15" fill="#000"/>
<rect x="1040" y="108" width="1" height="23" fill="#000"/>
<rect x="1038" y="112" width="5" height="13" fill="#000"/>
<rect x="1048" y="116" width="1" height="39" fill="#000"/>
<rect x="1046" y="125" width="5" height="26" fill="#000"/>
<rect x="1056" y="138" width="1" height="23" fill="#000"/>
<rect x="1054" y="141" width="5" height="11" fill="#000"/>
<rect x="1055" y="142" width="3" height="9" fill="#fff"/>
<rect x="1064" y="129" width="1" height="19" fill="#000"/>
<rect x="1062" y="133" width="5" height="8" fill="#000"/>
<rect x="1063" y="134" width="3" height="6" fill="#fff"/>
<rect x="1072" y="137" width="1" height="10" fill="#000"/>
<rect x="1070" y="141" width="5" height="6" fill="#000"/>
<rect x="1080" y="143" width="1" height="32" fill="#000"/>
<rect x="1078" y="146" width="5" height="6" fill="#000"/>
<rect x="1088" y="112" width="1" height="42" fill="#000"/>
<rect x="1086" y="114" width="5" height="39" fill="#000"/>
<rect x="1087" y="115" width="3" height="37" fill="#fff"/>
<rect x="1096" y="98" width="1" height="20" fill="#000"/>
<rect x="1094" y="102" width="5" height="14" fill="#000"/>
<rect x="1095" y="103" width="3" height="12" fill="#fff"/>
<rect x="1104" y="99" width="1" height="25" fill="#000"/>
<rect x="1102" y="102" width="5" height="11" fill="#000"/>
<rect x="1112" y="110" width="1" height="18" fill="#000"/>
<rect x="1110" y="111" width="5" height="11" fill="#000"/>
<rect x="1120" y="102" width="1" height="10" fill="#000"/>
<rect x="1118" y="109" width="5" height="3" fill="#000"/>
<rect x="1128" y="111" width="1" height="39" fill="#000"/>
<rect x="1126" y="112" width="5" height="22" fill="#000"/>
<rect x="1136" y="116" width="1" height="26" fill="#000"/>
<rect x="1134" y="121" width="5" height="14" fill="#000"/>
<rect x="1135" y="122" width="3" height="12" fill="#fff"/>
<rect x="1144" y="104" width="1" height="19" fill="#000"/>
<rect x="1142" y="108" width="5" height="13" fill="#000"/>
<rect x="1143" y="109" width="3" height="11" fill="#fff"/>
<rect x="1152" y="97" width="1" height="20" fill="#000"/>
<rect x="1150" y="108" width="5" height="1" fill="#000"/>
<rect x="1160" y="80" width="1" height="33" fill="#000"/>
<rect x="1158" y="95" width="5" height="14" fill="#000"/>
<rect x="1159" y="96" width="3" height="12" fill="#fff"/>
<rect x="1168" y="68" width="1" height="20" fill="#000"/>
<rect x="1166" y="71" width="5" height="14" fill="#000"/>
<rect x="1167" y="72" width="3" height="12" fill="#fff"/>
<rect x="1176" y="72" width="1" height="44" fill="#000"/>
<rect x="1174" y="72" width="5" height="15" fill="#000"/>
<rect x="1184" y="84" width="1" height="24" fill="#000"/>
<rect x="1182" y="85" width="5" height="16" fill="#000"/>
<rect x="1192" y="95" width="1" height="30" fill="#000"/>
<rect x="1190" y="101" width="5" height="13" fill="#000"/>
<rect x="1200" y="84" width="1" height="32" fill="#000"/>
<rect x="1198" y="94" width="5" height="20" fill="#000"/>
<rect x="1199" y="95" width="3" height="18" fill="#fff"/>
<rect x="1208" y="90" width="1" height="11" fill="#000"/>
<rect x="1206" y="95" width="5" height="1" fill="#000"/>
<rect x="1216" y="84" width="1" height="10" fill="#000"/>
<rect x="1214" y="84" width="5" height="9" fill="#000"/>
<rect x="1224" y="61" width="1" height="42" fill="#000"/>
<rect x="1222" y="94" width="5" height="1" fill="#000"/>
<rect x="1232" y="89" width="1" height="14" fill="#000"/>
<rect x="1230" y="95" width="5" height="6" fill="#000"/>
<rect x="1240" y="85" width="1" height="20" fill="#000"/>
<rect x="1238" y="92" width="5" height="10" fill="#000"/>
<rect x="1239" y="93" width="3" height="8" fill="#fff"/>
<rect x="1248" y="72" width="1" height="24" fill="#000"/>
<rect x="1246" y="90" width="5" height="2" fill="#000"/>
<rect x="1256" y="88" width="1" height="10" fill="#000"/>
<rect x="1254" y="89" width="5" height="6" fill="#000"/>
<rect x="1264" y="83" width="1" height="14" fill="#000"/>
<rect x="1262" y="88" width="5" height="6" fill="#000"/>
<rect x="1263" y="89" width="3" height="4" fill="#fff"/>
<rect x="1272" y="63" width="1" height="26" fill="#000"/>
<rect x="1270" y="75" width="5" height="13" fill="#000"/>
<rect x="1271" y="76" width="3" height="11" fill="#fff"/>
<rect x="1280" y="69" width="1" height="11" fill="#000"/>
<rect x="1278" y="75" width="5" height="1" fill="#000"/>
<rect x="1288" y="73" width="1" height="11" fill="#000"/>
<rect x="1286" y="74" width="5" height="2" fill="#000"/>
<rect x="1296" y="69" width="1" height="19" fill="#000"/>
<rect x="1294" y="70" width="5" height="5" fill="#000"/>
<rect x="1295" y="71" width="3" height="3" fill="#fff"/>
<rect x="1304" y="68" width="1" height="7" fill="#000"/>
<rect x="1302" y="69" width="5" height="4" fill="#000"/>
<rect x="1312" y="54" width="1" height="13" fill="#000"/>
<rect x="1310" y="55" width="5" height="9" fill="#000"/>
<rect x="1311" y="56" width="3" height="7" fill="#fff"/>
<rect x="1320" y="53" width="1" height="29" fill="#000"/>
<rect x="1318" y="56" width="5" height="18" fill="#000"/>
<rect x="1328" y="60" width="1" height="26" fill="#000"/>
<rect x="1326" y="66" width="5" height="8" fill="#000"/>
<rect x="1327" y="67" width="3" height="6" fill="#fff"/>
<rect x="1336" y="56" width="1" height="12" fill="#000"/>
<rect x="1334" y="56" width="5" height="12" fill="#000"/>
<rect x="1335" y="57" width="3" height="10" fill="#fff"/>
<rect x="1344" y="52" width="1" height="18" fill="#000"/>
<rect x="1342" y="57" width="5" height="4" fill="#000"/>
<rect x="1352" y="50" width="1" height="11" fill="#000"/>
<rect x="1350" y="53" width="5" height="8" fill="#000"/>
<rect x="1351" y="54" width="3" height="6" fill="#fff"/>
<rect x="1360" y="53" width="1" height="8" fill="#000"/>
<rect x="1358" y="56" width="5" height="5" fill="#000"/>
<rect x="1368" y="55" width="1" height="15" fill="#000"/>
<rect x="1366" y="60" width="5" height="9" fill="#000"/>
<rect x="1376" y="62" width="1" height="10" fill="#000"/>
<rect x="1374" y="67" width="5" height="5" fill="#000"/>
<rect x="1384" y="65" width="1" height="7" fill="#000"/>
<rect x="1382" y="67" width="5" height="5" fill="#000"/>
<rect x="1383" y="68" width="3" height="3" fill="#fff"/>
<rect x="1392" y="67" width="1" height="5" fill="#000"/>
<rect x="1390" y="67" width="5" height="5" fill="#000"/>
<rect x="1400" y="69" width="1" height="3" fill="#000"/>
<rect x="1398" y="69" width="5" height="3" fill="#000"/>
<rect x="1408" y="67" width="1" height="8" fill="#000"/>
<rect x="1406" y="70" width="5" height="1" fill="#000"/>
<rect x="1416" y="65" width="1" height="30" fill="#000"/>
<rect x="1414" y="68" width="5" height="21" fill="#000"/>
<rect x="1347" y="70" width="56" height="14" fill="#00ff00"/>
<rect x="0" y="32" width="5" height="5" fill="#ff4500"/><rect x="1" y="33" width="3" height="3" fill="#fff"/>
<rect x="-4" y="50" width="5" height="5" fill="#ff4500"/><rect x="-3" y="51" width="3" height="3" fill="#fff"/>
<rect x="-4" y="74" width="5" height="5" fill="#32cd32"/><rect x="-3" y="75" width="3" height="3" fill="#fff"/>
<rect x="-4" y="109" width="5" height="5" fill="#0000ff"/><rect x="-3" y="110" width="3" height="3" fill="#fff"/>
<rect x="0" y="134" width="5" height="5" fill="#0000ff"/><rect x="1" y="135" width="3" height="3" fill="#fff"/>
<rect x="1581" y="32" width="5" height="5" fill="#ff4500"/><rect x="1582" y="33" width="3" height="3" fill="#fff"/>
<rect x="1581" y="50" width="5" height="5" fill="#ff4500"/><rect x="1582" y="51" width="3" height="3" fill="#fff"/>
<rect x="1581" y="74" width="5" height="5" fill="#32cd32"/><rect x="1582" y="75" width="3" height="3" fill="#fff"/>
<rect x="1581" y="109" width="5" height="5" fill="#0000ff"/><rect x="1582" y="110" width="3" height="3" fill="#fff"/>
<rect x="1581" y="134" width="5" height="5" fill="#0000ff"/><rect x="1582" y="135" width="3" height="3" fill="#fff"/>
<path d="M3 41 L6.5 37 L10 41 Z" fill="#000" shape-rendering="geometricPrecision"/>
<text x="15" y="42" font-size="10.2" fill="#000" textLength="50" lengthAdjust="spacingAndGlyphs">JPN225-,H4</text>
<text x="71" y="42" font-size="10.2" fill="#000" textLength="141" lengthAdjust="spacingAndGlyphs">20867.5 20880.0 20745.0 20772.5</text>
<defs>
<linearGradient id="gtab" x1="0" y1="0" x2="0" y2="1"><stop offset="0" stop-color="#f85050"/><stop offset="1" stop-color="#d82828"/></linearGradient>
<linearGradient id="gbody" x1="0" y1="0" x2="0" y2="1"><stop offset="0" stop-color="#e03030"/><stop offset="1" stop-color="#b00808"/></linearGradient>
</defs>
<rect x="222" y="49" width="2" height="66" fill="#fff"/><rect x="1" y="49" width="2" height="66" fill="#fff"/>
<rect x="3" y="50" width="52" height="24" fill="url(#gtab)"/>
<rect x="3" y="74" width="109" height="40" fill="url(#gbody)"/>
<rect x="114" y="74" width="108" height="40" fill="url(#gbody)"/>
<rect x="170" y="50" width="52" height="24" fill="url(#gtab)"/>
<g fill="none" stroke="#b40000" stroke-width="1"><path d="M3.5 113.5 V50.5 H54.5 V74.5 H111.5 V113.5 Z"/><path d="M114.5 113.5 V74.5 H170.5 V50.5 H221.5 V113.5 Z"/></g>
<rect x="7" y="73" width="44" height="1" fill="#a80000"/><rect x="7" y="74" width="44" height="1" fill="#f07070"/>
<rect x="174" y="73" width="44" height="1" fill="#a80000"/><rect x="174" y="74" width="44" height="1" fill="#f07070"/>
<rect x="55" y="50" width="115" height="24" fill="#fff"/>
<rect x="57" y="50" width="111" height="22" fill="#fff" stroke="#a8a8a8" stroke-width="1"/>
<rect x="58" y="51" width="20" height="20" fill="#e6e6e6"/><rect x="78" y="51" width="1" height="20" fill="#a8a8a8"/>
<rect x="147" y="51" width="20" height="20" fill="#e6e6e6"/><rect x="146" y="51" width="1" height="20" fill="#a8a8a8"/>
<path d="M65 59 L71 59 L68 62 Z" fill="#000" shape-rendering="geometricPrecision"/><path d="M154 62 L160 62 L157 59 Z" fill="#000" shape-rendering="geometricPrecision"/>
<text x="119" y="65.5" font-size="12" fill="#101030" textLength="24" lengthAdjust="spacingAndGlyphs" shape-rendering="geometricPrecision">0.10</text>
<g fill="#ffe8e8" shape-rendering="geometricPrecision">
<text x="15.5" y="66" font-size="12" textLength="25" lengthAdjust="spacingAndGlyphs">SELL</text>
<text x="183.5" y="66" font-size="12" textLength="23.5" lengthAdjust="spacingAndGlyphs">BUY</text>
</g><g fill="#fff" shape-rendering="geometricPrecision">
<text x="19" y="105" font-size="12.5" font-weight="bold" textLength="34" lengthAdjust="spacingAndGlyphs">20771</text>
<text x="129" y="105" font-size="12.5" font-weight="bold" textLength="34.5" lengthAdjust="spacingAndGlyphs">20794</text>
<text x="57" y="105.3" font-size="35" textLength="25" lengthAdjust="spacingAndGlyphs">.0</text>
<text x="168" y="105.3" font-size="35" textLength="25" lengthAdjust="spacingAndGlyphs">.0</text>
</g>
<g class="ax" fill="#000" font-size="9.8">
<rect x="1587" y="40" width="2" height="1"/>
<text x="1592" y="44" textLength="33" lengthAdjust="spacingAndGlyphs">20993.5</text>
<rect x="1587" y="73" width="2" height="1"/>
<rect x="1587" y="106" width="2" height="1"/>
<text x="1592" y="110" textLength="33" lengthAdjust="spacingAndGlyphs">20687.5</text>
<rect x="1587" y="139" width="2" height="1"/>
<text x="1592" y="143" textLength="33" lengthAdjust="spacingAndGlyphs">20534.5</text>
<rect x="1587" y="172" width="2" height="1"/>
<text x="1592" y="176" textLength="33" lengthAdjust="spacingAndGlyphs">20386.0</text>
<rect x="1587" y="205" width="2" height="1"/>
<text x="1592" y="209" textLength="33" lengthAdjust="spacingAndGlyphs">20233.0</text>
<rect x="1587" y="238" width="2" height="1"/>
<text x="1592" y="242" textLength="33" lengthAdjust="spacingAndGlyphs">20080.0</text>
<rect x="1587" y="271" width="2" height="1"/>
<text x="1592" y="275" textLength="33" lengthAdjust="spacingAndGlyphs">19927.0</text>
<rect x="1587" y="304" width="2" height="1"/>
<text x="1592" y="308" textLength="33" lengthAdjust="spacingAndGlyphs">19774.0</text>
<rect x="1587" y="337" width="2" height="1"/>
<text x="1592" y="341" textLength="33" lengthAdjust="spacingAndGlyphs">19621.0</text>
<rect x="1587" y="370" width="2" height="1"/>
<text x="1592" y="374" textLength="33" lengthAdjust="spacingAndGlyphs">19468.0</text>
<rect x="1587" y="403" width="2" height="1"/>
<text x="1592" y="407" textLength="33" lengthAdjust="spacingAndGlyphs">19315.0</text>
<rect x="1587" y="436" width="2" height="1"/>
<text x="1592" y="440" textLength="33" lengthAdjust="spacingAndGlyphs">19166.5</text>
</g>
<rect x="1588" y="28" width="41" height="11" fill="#ff4500"/>
<text x="1592" y="37" font-size="10.2" fill="#fff" textLength="33" lengthAdjust="spacingAndGlyphs">21022.5</text>
<rect x="1588" y="46" width="41" height="11" fill="#ff4500"/>
<text x="1592" y="55" font-size="10.2" fill="#fff" textLength="33" lengthAdjust="spacingAndGlyphs">20939.9</text>
<rect x="1588" y="70" width="41" height="11" fill="#32cd32"/>
<text x="1592" y="79" font-size="10.2" fill="#fff" textLength="33" lengthAdjust="spacingAndGlyphs">20827.4</text>
<rect x="1588" y="83" width="41" height="11" fill="#000"/>
<text x="1592" y="92" font-size="10.2" fill="#fff" textLength="33" lengthAdjust="spacingAndGlyphs">20772.5</text>
<rect x="1588" y="105" width="41" height="11" fill="#0000ff"/>
<text x="1592" y="114" font-size="10.2" fill="#fff" textLength="33" lengthAdjust="spacingAndGlyphs">20666.0</text>
<rect x="1588" y="130" width="41" height="11" fill="#0000ff"/>
<text x="1592" y="139" font-size="10.2" fill="#fff" textLength="33" lengthAdjust="spacingAndGlyphs">20550.7</text>
<text x="4" y="455" font-size="10.2" fill="#000" textLength="118" lengthAdjust="spacingAndGlyphs">MACD(12,26,9) 23.35 43.52</text>
<g fill="#c0c0c0">
<rect x="0" y="494" width="1" height="62"/>
<rect x="8" y="494" width="1" height="46"/>
<rect x="16" y="494" width="1" height="31"/>
<rect x="24" y="494" width="1" height="19"/>
<rect x="32" y="494" width="1" height="17"/>
<rect x="40" y="494" width="1" height="17"/>
<rect x="48" y="494" width="1" height="19"/>
<rect x="56" y="494" width="1" height="11"/>
<rect x="64" y="494" width="1" height="6"/>
<rect x="80" y="493" width="1" height="2"/>
<rect x="88" y="489" width="1" height="6"/>
<rect x="96" y="487" width="1" height="8"/>
<rect x="104" y="484" width="1" height="11"/>
<rect x="112" y="482" width="1" height="13"/>
<rect x="120" y="480" width="1" height="15"/>
<rect x="128" y="480" width="1" height="15"/>
<rect x="136" y="480" width="1" height="15"/>
<rect x="144" y="484" width="1" height="11"/>
<rect x="152" y="487" width="1" height="8"/>
<rect x="160" y="487" width="1" height="8"/>
<rect x="176" y="494" width="1" height="7"/>
<rect x="184" y="494" width="1" height="10"/>
<rect x="192" y="494" width="1" height="7"/>
<rect x="200" y="494" width="1" height="7"/>
<rect x="208" y="494" width="1" height="15"/>
<rect x="216" y="494" width="1" height="19"/>
<rect x="224" y="494" width="1" height="23"/>
<rect x="232" y="494" width="1" height="24"/>
<rect x="240" y="494" width="1" height="25"/>
<rect x="248" y="494" width="1" height="28"/>
<rect x="256" y="494" width="1" height="29"/>
<rect x="264" y="494" width="1" height="29"/>
<rect x="272" y="494" width="1" height="25"/>
<rect x="280" y="494" width="1" height="19"/>
<rect x="288" y="494" width="1" height="6"/>
<rect x="296" y="490" width="1" height="5"/>
<rect x="304" y="482" width="1" height="13"/>
<rect x="312" y="477" width="1" height="18"/>
<rect x="320" y="475" width="1" height="20"/>
<rect x="328" y="473" width="1" height="22"/>
<rect x="336" y="469" width="1" height="26"/>
<rect x="344" y="465" width="1" height="30"/>
<rect x="352" y="464" width="1" height="31"/>
<rect x="360" y="462" width="1" height="33"/>
<rect x="368" y="460" width="1" height="35"/>
<rect x="376" y="457" width="1" height="38"/>
<rect x="384" y="455" width="1" height="40"/>
<rect x="392" y="454" width="1" height="41"/>
<rect x="400" y="453" width="1" height="42"/>
<rect x="408" y="451" width="1" height="44"/>
<rect x="416" y="451" width="1" height="44"/>
<rect x="424" y="453" width="1" height="42"/>
<rect x="432" y="455" width="1" height="40"/>
<rect x="440" y="458" width="1" height="37"/>
<rect x="448" y="461" width="1" height="34"/>
<rect x="456" y="466" width="1" height="29"/>
<rect x="464" y="471" width="1" height="24"/>
<rect x="472" y="476" width="1" height="19"/>
<rect x="480" y="477" width="1" height="18"/>
<rect x="488" y="475" width="1" height="20"/>
<rect x="496" y="476" width="1" height="19"/>
<rect x="504" y="476" width="1" height="19"/>
<rect x="512" y="477" width="1" height="18"/>
<rect x="520" y="480" width="1" height="15"/>
<rect x="528" y="481" width="1" height="14"/>
<rect x="536" y="483" width="1" height="12"/>
<rect x="544" y="486" width="1" height="9"/>
<rect x="552" y="490" width="1" height="5"/>
<rect x="600" y="488" width="1" height="7"/>
<rect x="608" y="485" width="1" height="10"/>
<rect x="616" y="482" width="1" height="13"/>
<rect x="624" y="479" width="1" height="16"/>
<rect x="632" y="477" width="1" height="18"/>
<rect x="640" y="474" width="1" height="21"/>
<rect x="648" y="474" width="1" height="21"/>
<rect x="656" y="475" width="1" height="20"/>
<rect x="664" y="474" width="1" height="21"/>
<rect x="672" y="473" width="1" height="22"/>
<rect x="680" y="472" width="1" height="23"/>
<rect x="688" y="472" width="1" height="23"/>
<rect x="696" y="475" width="1" height="20"/>
<rect x="704" y="480" width="1" height="15"/>
<rect x="712" y="483" width="1" height="12"/>
<rect x="720" y="484" width="1" height="11"/>
<rect x="728" y="483" width="1" height="12"/>
<rect x="736" y="483" width="1" height="12"/>
<rect x="744" y="478" width="1" height="17"/>
<rect x="752" y="476" width="1" height="19"/>
<rect x="760" y="472" width="1" height="23"/>
<rect x="768" y="465" width="1" height="30"/>
<rect x="776" y="461" width="1" height="34"/>
<rect x="784" y="459" width="1" height="36"/>
<rect x="792" y="460" width="1" height="35"/>
<rect x="800" y="462" width="1" height="33"/>
<rect x="808" y="464" width="1" height="31"/>
<rect x="816" y="466" width="1" height="29"/>
<rect x="824" y="468" width="1" height="27"/>
<rect x="832" y="468" width="1" height="27"/>
<rect x="840" y="474" width="1" height="21"/>
<rect x="848" y="477" width="1" height="18"/>
<rect x="856" y="481" width="1" height="14"/>
<rect x="864" y="487" width="1" height="8"/>
<rect x="872" y="492" width="1" height="3"/>
<rect x="904" y="491" width="1" height="4"/>
<rect x="912" y="493" width="1" height="2"/>
<rect x="936" y="494" width="1" height="2"/>
<rect x="984" y="490" width="1" height="5"/>
<rect x="992" y="486" width="1" height="9"/>
<rect x="1000" y="483" width="1" height="12"/>
<rect x="1008" y="480" width="1" height="15"/>
<rect x="1016" y="478" width="1" height="17"/>
<rect x="1024" y="479" width="1" height="16"/>
<rect x="1032" y="481" width="1" height="14"/>
<rect x="1040" y="483" width="1" height="12"/>
<rect x="1048" y="489" width="1" height="6"/>
<rect x="1056" y="492" width="1" height="3"/>
<rect x="1080" y="494" width="1" height="5"/>
<rect x="1088" y="494" width="1" height="3"/>
<rect x="1152" y="492" width="1" height="3"/>
<rect x="1160" y="490" width="1" height="5"/>
<rect x="1168" y="487" width="1" height="8"/>
<rect x="1176" y="485" width="1" height="10"/>
<rect x="1184" y="486" width="1" height="9"/>
<rect x="1192" y="487" width="1" height="8"/>
<rect x="1200" y="487" width="1" height="8"/>
<rect x="1208" y="487" width="1" height="8"/>
<rect x="1216" y="486" width="1" height="9"/>
<rect x="1224" y="486" width="1" height="9"/>
<rect x="1232" y="486" width="1" height="9"/>
<rect x="1240" y="487" width="1" height="8"/>
<rect x="1248" y="487" width="1" height="8"/>
<rect x="1256" y="487" width="1" height="8"/>
<rect x="1264" y="487" width="1" height="8"/>
<rect x="1272" y="485" width="1" height="10"/>
<rect x="1280" y="485" width="1" height="10"/>
<rect x="1288" y="484" width="1" height="11"/>
<rect x="1296" y="483" width="1" height="12"/>
<rect x="1304" y="483" width="1" height="12"/>
<rect x="1312" y="481" width="1" height="14"/>
<rect x="1320" y="482" width="1" height="13"/>
<rect x="1328" y="482" width="1" height="13"/>
<rect x="1336" y="481" width="1" height="14"/>
<rect x="1344" y="481" width="1" height="14"/>
<rect x="1352" y="480" width="1" height="15"/>
<rect x="1360" y="480" width="1" height="15"/>
<rect x="1368" y="482" width="1" height="13"/>
<rect x="1376" y="482" width="1" height="13"/>
<rect x="1384" y="484" width="1" height="11"/>
<rect x="1392" y="485" width="1" height="10"/>
<rect x="1400" y="485" width="1" height="10"/>
<rect x="1408" y="487" width="1" height="8"/>
<rect x="1416" y="489" width="1" height="6"/>
</g>
<path d="M0 595h1v1h-1zM1 594h1v1h-1zM2 593h1v1h-1zM6 589h1v1h-1zM7 588h1v1h-1zM8 587h1v1h-1zM11 583h1v1h-1zM12 582h1v1h-1zM13 581h1v1h-1zM16 577h1v1h-1zM17 576h1v1h-1zM18 575h1v1h-1zM21 571h1v1h-1zM21 570h1v1h-1zM22 569h1v1h-1zM25 565h1v1h-1zM25 564h1v1h-1zM26 563h1v1h-1zM29 559h1v1h-1zM30 558h1v1h-1zM31 557h1v1h-1zM34 553h1v1h-1zM34 552h1v1h-1zM35 551h1v1h-1zM38 547h1v1h-1zM39 546h1v1h-1zM40 545h1v1h-1zM43 541h1v1h-1zM44 540h1v1h-1zM45 539h1v1h-1zM49 535h1v1h-1zM49 534h1v1h-1zM50 533h1v1h-1zM54 529h1v1h-1zM55 528h1v1h-1zM56 527h1v1h-1zM60 524h1v1h-1zM61 523h1v1h-1zM62 522h1v1h-1zM66 518h1v1h-1zM277 518h1v1h-1zM281 518h1v1h-1zM67 517h1v1h-1zM275 517h2v1h-2zM282 517h2v1h-2zM68 516h1v1h-1zM269 516h3v1h-3zM287 516h3v1h-3zM71 512h1v1h-1zM251 512h3v1h-3zM299 512h2v1h-2zM72 511h1v1h-1zM246 511h2v1h-2zM301 511h1v1h-1zM73 510h1v1h-1zM241 510h1v1h-1zM245 510h1v1h-1zM77 508h2v1h-2zM233 508h3v1h-3zM306 508h2v1h-2zM79 507h1v1h-1zM83 505h2v1h-2zM227 505h2v1h-2zM311 505h2v1h-2zM85 504h1v1h-1zM313 504h1v1h-1zM89 503h1v1h-1zM90 502h2v1h-2zM222 502h2v1h-2zM95 500h1v1h-1zM319 500h1v1h-1zM96 499h2v1h-2zM216 499h2v1h-2zM101 497h2v1h-2zM210 497h2v1h-2zM323 497h1v1h-1zM103 496h1v1h-1zM209 496h1v1h-1zM324 496h2v1h-2zM107 495h2v1h-2zM204 495h2v1h-2zM109 494h1v1h-1zM203 494h1v1h-1zM947 494h3v1h-3zM953 494h3v1h-3zM959 494h3v1h-3zM965 494h3v1h-3zM971 494h3v1h-3zM977 494h3v1h-3zM983 494h3v1h-3zM989 494h3v1h-3zM1121 494h3v1h-3zM1127 494h3v1h-3zM1133 494h3v1h-3zM1139 494h3v1h-3zM1145 494h3v1h-3zM113 493h1v1h-1zM198 493h2v1h-2zM329 493h1v1h-1zM931 493h1v1h-1zM935 493h3v1h-3zM941 493h3v1h-3zM995 493h3v1h-3zM1109 493h3v1h-3zM1115 493h3v1h-3zM1151 493h3v1h-3zM114 492h2v1h-2zM197 492h1v1h-1zM330 492h2v1h-2zM929 492h2v1h-2zM1001 492h3v1h-3zM1103 492h3v1h-3zM1157 492h3v1h-3zM1163 492h3v1h-3zM1169 492h3v1h-3zM1175 492h1v1h-1zM119 490h1v1h-1zM191 490h1v1h-1zM593 490h3v1h-3zM599 490h3v1h-3zM617 490h3v1h-3zM919 490h1v1h-1zM1008 490h2v1h-2zM1092 490h2v1h-2zM1183 490h1v1h-1zM1187 490h2v1h-2zM120 489h2v1h-2zM186 489h2v1h-2zM335 489h2v1h-2zM587 489h3v1h-3zM623 489h3v1h-3zM917 489h2v1h-2zM1091 489h1v1h-1zM1189 489h1v1h-1zM1193 489h2v1h-2zM125 487h3v1h-3zM179 487h3v1h-3zM575 487h3v1h-3zM631 487h1v1h-1zM906 487h2v1h-2zM1019 487h3v1h-3zM1080 487h2v1h-2zM1206 487h2v1h-2zM1211 487h3v1h-3zM1217 487h3v1h-3zM1223 487h1v1h-1zM1247 487h3v1h-3zM1253 487h3v1h-3zM1259 487h3v1h-3zM1265 487h3v1h-3zM131 486h1v1h-1zM571 486h1v1h-1zM635 486h3v1h-3zM900 486h2v1h-2zM905 486h1v1h-1zM1025 486h3v1h-3zM1074 486h2v1h-2zM1079 486h1v1h-1zM1224 486h2v1h-2zM1229 486h3v1h-3zM1235 486h3v1h-3zM1241 486h3v1h-3zM1271 486h3v1h-3zM1277 486h3v1h-3zM1283 486h3v1h-3zM1289 486h1v1h-1zM132 485h2v1h-2zM173 485h3v1h-3zM341 485h1v1h-1zM569 485h2v1h-2zM641 485h2v1h-2zM895 485h1v1h-1zM899 485h1v1h-1zM1031 485h3v1h-3zM1068 485h2v1h-2zM1073 485h1v1h-1zM1290 485h2v1h-2zM1295 485h3v1h-3zM1301 485h3v1h-3zM137 484h3v1h-3zM143 484h3v1h-3zM149 484h3v1h-3zM155 484h3v1h-3zM161 484h3v1h-3zM167 484h3v1h-3zM342 484h2v1h-2zM564 484h2v1h-2zM643 484h1v1h-1zM893 484h2v1h-2zM1037 484h2v1h-2zM1062 484h2v1h-2zM1067 484h1v1h-1zM1307 484h3v1h-3zM1313 484h3v1h-3zM185 488h1v1h-1zM337 488h1v1h-1zM581 488h3v1h-3zM629 488h2v1h-2zM911 488h3v1h-3zM1013 488h3v1h-3zM1085 488h3v1h-3zM1195 488h1v1h-1zM1199 488h3v1h-3zM1205 488h1v1h-1zM192 491h2v1h-2zM605 491h3v1h-3zM611 491h3v1h-3zM923 491h3v1h-3zM1007 491h1v1h-1zM1097 491h3v1h-3zM1176 491h2v1h-2zM1181 491h2v1h-2zM215 498h1v1h-1zM221 501h1v1h-1zM317 501h2v1h-2zM229 506h1v1h-1zM239 509h2v1h-2zM305 509h1v1h-1zM257 513h1v1h-1zM258 514h2v1h-2zM294 514h2v1h-2zM263 515h3v1h-3zM293 515h1v1h-1zM347 481h1v1h-1zM553 481h1v1h-1zM654 481h2v1h-2zM887 481h2v1h-2zM1349 481h3v1h-3zM1355 481h3v1h-3zM1361 481h3v1h-3zM1367 481h3v1h-3zM1373 481h3v1h-3zM1379 481h3v1h-3zM1385 481h3v1h-3zM1391 481h3v1h-3zM1397 481h3v1h-3zM1403 481h3v1h-3zM348 480h1v1h-1zM551 480h2v1h-2zM659 480h1v1h-1zM349 479h1v1h-1zM545 479h3v1h-3zM660 479h2v1h-2zM882 479h2v1h-2zM353 476h1v1h-1zM529 476h1v1h-1zM671 476h3v1h-3zM719 476h3v1h-3zM725 476h1v1h-1zM773 476h3v1h-3zM875 476h1v1h-1zM354 475h2v1h-2zM527 475h2v1h-2zM677 475h3v1h-3zM713 475h3v1h-3zM779 475h1v1h-1zM871 475h1v1h-1zM359 473h1v1h-1zM521 473h1v1h-1zM689 473h3v1h-3zM695 473h3v1h-3zM701 473h3v1h-3zM707 473h1v1h-1zM785 473h2v1h-2zM360 472h2v1h-2zM515 472h3v1h-3zM787 472h1v1h-1zM865 472h1v1h-1zM365 470h1v1h-1zM505 470h1v1h-1zM792 470h2v1h-2zM857 470h3v1h-3zM366 469h2v1h-2zM503 469h2v1h-2zM797 469h1v1h-1zM853 469h1v1h-1zM371 467h3v1h-3zM497 467h1v1h-1zM803 467h2v1h-2zM847 467h1v1h-1zM377 466h1v1h-1zM491 466h3v1h-3zM805 466h1v1h-1zM809 466h1v1h-1zM845 466h2v1h-2zM378 465h2v1h-2zM810 465h2v1h-2zM815 465h2v1h-2zM383 464h1v1h-1zM486 464h2v1h-2zM817 464h1v1h-1zM821 464h3v1h-3zM839 464h3v1h-3zM384 463h2v1h-2zM485 463h1v1h-1zM827 463h3v1h-3zM833 463h3v1h-3zM389 462h2v1h-2zM480 462h2v1h-2zM391 461h1v1h-1zM479 461h1v1h-1zM395 460h3v1h-3zM475 460h1v1h-1zM401 459h2v1h-2zM473 459h2v1h-2zM403 458h1v1h-1zM468 458h2v1h-2zM407 457h3v1h-3zM467 457h1v1h-1zM413 455h3v1h-3zM450 455h2v1h-2zM455 455h3v1h-3zM419 454h3v1h-3zM425 454h3v1h-3zM439 454h1v1h-1zM443 454h3v1h-3zM449 454h1v1h-1zM431 453h3v1h-3zM437 453h2v1h-2zM461 456h3v1h-3zM498 468h2v1h-2zM798 468h2v1h-2zM851 468h2v1h-2zM509 471h3v1h-3zM791 471h1v1h-1zM863 471h2v1h-2zM522 474h2v1h-2zM683 474h3v1h-3zM708 474h2v1h-2zM780 474h2v1h-2zM869 474h2v1h-2zM533 477h3v1h-3zM665 477h3v1h-3zM726 477h2v1h-2zM731 477h3v1h-3zM737 477h2v1h-2zM767 477h3v1h-3zM876 477h2v1h-2zM539 478h3v1h-3zM739 478h1v1h-1zM743 478h3v1h-3zM749 478h3v1h-3zM755 478h3v1h-3zM761 478h3v1h-3zM881 478h1v1h-1zM557 482h3v1h-3zM653 482h1v1h-1zM889 482h1v1h-1zM1043 482h3v1h-3zM1049 482h3v1h-3zM1331 482h3v1h-3zM1337 482h3v1h-3zM1343 482h3v1h-3zM1409 482h3v1h-3zM563 483h1v1h-1zM647 483h3v1h-3zM1039 483h1v1h-1zM1055 483h3v1h-3zM1061 483h1v1h-1zM1319 483h3v1h-3zM1325 483h3v1h-3z" fill="#ff0000" shape-rendering="crispEdges"/>
<g class="ax" fill="#000" font-size="9.8">
<rect x="1587" y="443" width="2" height="1"/><text x="1590" y="452" textLength="27.5" lengthAdjust="spacingAndGlyphs">200.03</text>
<rect x="1587" y="494" width="2" height="1"/><text x="1590" y="498" textLength="17.5" lengthAdjust="spacingAndGlyphs">0.00</text>
<rect x="1587" y="602" width="2" height="1"/><text x="1590" y="600" textLength="30.5" lengthAdjust="spacingAndGlyphs">-417.21</text>
</g>
<text x="4" y="618" font-size="10.2" fill="#000" textLength="68" lengthAdjust="spacingAndGlyphs">RSI(14) 44.4942</text>
<line x1="0" y1="636.5" x2="1586" y2="636.5" stroke="#c0c0c0" stroke-width="1" stroke-dasharray="3 3"/>
<line x1="0" y1="680.5" x2="1586" y2="680.5" stroke="#c0c0c0" stroke-width="1" stroke-dasharray="3 3"/>
<line x1="0" y1="732.5" x2="1586" y2="732.5" stroke="#c0c0c0" stroke-width="1" stroke-dasharray="3 3"/>
<path d="M0 673h1v1h-1zM27 673h1v1h-1zM56 673h4v1h-4zM87 673h3v1h-3zM102 673h14v1h-14zM122 673h2v1h-2zM281 673h1v1h-1zM450 673h1v1h-1zM481 673h1v1h-1zM509 673h2v1h-2zM594 673h1v1h-1zM694 673h1v1h-1zM725 673h1v1h-1zM734 673h3v1h-3zM835 673h1v1h-1zM902 673h1v1h-1zM905 673h1v1h-1zM979 673h1v1h-1zM1025 673h1v1h-1zM1093 673h2v1h-2zM1097 673h2v1h-2zM1155 673h2v1h-2zM1182 673h1v1h-1zM1212 673h8v1h-8zM1242 673h4v1h-4zM1250 673h2v1h-2zM1262 673h3v1h-3zM1369 673h1v1h-1zM1384 673h2v1h-2zM1 672h1v1h-1zM26 672h1v1h-1zM116 672h6v1h-6zM282 672h1v1h-1zM449 672h1v1h-1zM482 672h1v1h-1zM496 672h2v1h-2zM507 672h2v1h-2zM595 672h1v1h-1zM648 672h4v1h-4zM693 672h1v1h-1zM726 672h2v1h-2zM730 672h4v1h-4zM737 672h1v1h-1zM835 672h1v1h-1zM903 672h1v1h-1zM905 672h1v1h-1zM979 672h1v1h-1zM1024 672h1v1h-1zM1095 672h2v1h-2zM1157 672h2v1h-2zM1180 672h2v1h-2zM1246 672h4v1h-4zM1265 672h1v1h-1zM1368 672h1v1h-1zM2 671h2v1h-2zM25 671h1v1h-1zM282 671h1v1h-1zM447 671h2v1h-2zM483 671h1v1h-1zM495 671h1v1h-1zM498 671h4v1h-4zM505 671h2v1h-2zM595 671h1v1h-1zM647 671h1v1h-1zM652 671h5v1h-5zM692 671h1v1h-1zM728 671h2v1h-2zM737 671h1v1h-1zM834 671h1v1h-1zM904 671h1v1h-1zM980 671h1v1h-1zM1023 671h1v1h-1zM1159 671h2v1h-2zM1179 671h1v1h-1zM1266 671h1v1h-1zM1320 671h1v1h-1zM1366 671h2v1h-2zM4 670h1v1h-1zM25 670h1v1h-1zM283 670h1v1h-1zM444 670h3v1h-3zM484 670h1v1h-1zM494 670h1v1h-1zM502 670h3v1h-3zM595 670h1v1h-1zM647 670h1v1h-1zM657 670h2v1h-2zM691 670h1v1h-1zM738 670h1v1h-1zM834 670h1v1h-1zM981 670h1v1h-1zM1023 670h1v1h-1zM1161 670h1v1h-1zM1178 670h1v1h-1zM1267 670h1v1h-1zM1319 670h1v1h-1zM1321 670h2v1h-2zM1364 670h2v1h-2zM5 669h1v1h-1zM22 669h3v1h-3zM283 669h1v1h-1zM442 669h2v1h-2zM484 669h1v1h-1zM492 669h2v1h-2zM596 669h1v1h-1zM646 669h1v1h-1zM659 669h1v1h-1zM690 669h1v1h-1zM739 669h1v1h-1zM804 669h6v1h-6zM822 669h4v1h-4zM833 669h1v1h-1zM981 669h1v1h-1zM1022 669h1v1h-1zM1162 669h1v1h-1zM1177 669h1v1h-1zM1268 669h2v1h-2zM1319 669h1v1h-1zM1323 669h2v1h-2zM1363 669h1v1h-1zM6 668h2v1h-2zM18 668h4v1h-4zM284 668h1v1h-1zM319 668h10v1h-10zM439 668h3v1h-3zM485 668h1v1h-1zM491 668h1v1h-1zM596 668h1v1h-1zM608 668h4v1h-4zM645 668h1v1h-1zM660 668h2v1h-2zM690 668h1v1h-1zM740 668h1v1h-1zM796 668h8v1h-8zM810 668h4v1h-4zM818 668h4v1h-4zM826 668h2v1h-2zM833 668h1v1h-1zM982 668h1v1h-1zM1021 668h1v1h-1zM1163 668h1v1h-1zM1176 668h1v1h-1zM1270 668h1v1h-1zM1318 668h1v1h-1zM1325 668h2v1h-2zM1361 668h2v1h-2zM8 667h10v1h-10zM284 667h1v1h-1zM317 667h2v1h-2zM329 667h1v1h-1zM436 667h3v1h-3zM486 667h1v1h-1zM490 667h1v1h-1zM597 667h1v1h-1zM607 667h1v1h-1zM612 667h6v1h-6zM645 667h1v1h-1zM662 667h2v1h-2zM689 667h1v1h-1zM740 667h1v1h-1zM792 667h4v1h-4zM814 667h4v1h-4zM828 667h3v1h-3zM832 667h1v1h-1zM982 667h1v1h-1zM1021 667h1v1h-1zM1164 667h1v1h-1zM1174 667h2v1h-2zM1271 667h1v1h-1zM1318 667h1v1h-1zM1327 667h2v1h-2zM1360 667h1v1h-1zM27 674h1v1h-1zM56 674h1v1h-1zM60 674h14v1h-14zM84 674h3v1h-3zM90 674h4v1h-4zM98 674h4v1h-4zM124 674h3v1h-3zM281 674h1v1h-1zM451 674h1v1h-1zM480 674h1v1h-1zM511 674h2v1h-2zM594 674h1v1h-1zM694 674h1v1h-1zM724 674h1v1h-1zM836 674h1v1h-1zM900 674h2v1h-2zM906 674h1v1h-1zM978 674h1v1h-1zM1026 674h1v1h-1zM1091 674h2v1h-2zM1099 674h2v1h-2zM1153 674h2v1h-2zM1183 674h1v1h-1zM1200 674h12v1h-12zM1220 674h5v1h-5zM1239 674h3v1h-3zM1252 674h3v1h-3zM1258 674h4v1h-4zM1370 674h2v1h-2zM1382 674h2v1h-2zM1386 674h4v1h-4zM28 675h1v1h-1zM55 675h1v1h-1zM74 675h4v1h-4zM82 675h2v1h-2zM94 675h4v1h-4zM127 675h10v1h-10zM280 675h1v1h-1zM452 675h2v1h-2zM479 675h1v1h-1zM513 675h1v1h-1zM594 675h1v1h-1zM695 675h1v1h-1zM722 675h2v1h-2zM836 675h1v1h-1zM888 675h2v1h-2zM899 675h1v1h-1zM906 675h1v1h-1zM978 675h1v1h-1zM1027 675h1v1h-1zM1089 675h2v1h-2zM1101 675h2v1h-2zM1144 675h9v1h-9zM1184 675h1v1h-1zM1199 675h1v1h-1zM1225 675h2v1h-2zM1237 675h2v1h-2zM1255 675h3v1h-3zM1372 675h1v1h-1zM1380 675h2v1h-2zM1390 675h19v1h-19zM29 676h1v1h-1zM55 676h1v1h-1zM78 676h4v1h-4zM137 676h1v1h-1zM279 676h1v1h-1zM454 676h1v1h-1zM478 676h1v1h-1zM514 676h2v1h-2zM527 676h3v1h-3zM593 676h1v1h-1zM696 676h1v1h-1zM721 676h1v1h-1zM836 676h1v1h-1zM887 676h1v1h-1zM890 676h2v1h-2zM898 676h1v1h-1zM907 676h1v1h-1zM977 676h1v1h-1zM1028 676h2v1h-2zM1088 676h1v1h-1zM1103 676h2v1h-2zM1119 676h2v1h-2zM1142 676h2v1h-2zM1185 676h1v1h-1zM1198 676h1v1h-1zM1227 676h2v1h-2zM1235 676h2v1h-2zM1373 676h1v1h-1zM1379 676h1v1h-1zM1409 676h1v1h-1zM29 677h1v1h-1zM54 677h1v1h-1zM138 677h1v1h-1zM278 677h1v1h-1zM455 677h1v1h-1zM478 677h1v1h-1zM516 677h1v1h-1zM525 677h2v1h-2zM530 677h4v1h-4zM593 677h1v1h-1zM697 677h1v1h-1zM720 677h1v1h-1zM837 677h1v1h-1zM887 677h1v1h-1zM892 677h3v1h-3zM897 677h1v1h-1zM907 677h1v1h-1zM977 677h1v1h-1zM1030 677h1v1h-1zM1088 677h1v1h-1zM1105 677h2v1h-2zM1117 677h2v1h-2zM1121 677h1v1h-1zM1140 677h2v1h-2zM1186 677h1v1h-1zM1197 677h1v1h-1zM1229 677h2v1h-2zM1233 677h2v1h-2zM1374 677h2v1h-2zM1377 677h2v1h-2zM1409 677h1v1h-1zM30 678h1v1h-1zM54 678h1v1h-1zM139 678h1v1h-1zM160 678h1v1h-1zM192 678h1v1h-1zM277 678h1v1h-1zM456 678h1v1h-1zM477 678h1v1h-1zM517 678h1v1h-1zM523 678h2v1h-2zM534 678h3v1h-3zM592 678h1v1h-1zM697 678h1v1h-1zM718 678h2v1h-2zM837 678h1v1h-1zM886 678h1v1h-1zM895 678h2v1h-2zM908 678h1v1h-1zM944 678h1v1h-1zM966 678h11v1h-11zM1031 678h1v1h-1zM1087 678h1v1h-1zM1107 678h2v1h-2zM1115 678h2v1h-2zM1122 678h1v1h-1zM1139 678h1v1h-1zM1187 678h1v1h-1zM1196 678h1v1h-1zM1231 678h2v1h-2zM1376 678h1v1h-1zM1410 678h1v1h-1zM31 679h1v1h-1zM53 679h1v1h-1zM140 679h1v1h-1zM158 679h2v1h-2zM161 679h1v1h-1zM191 679h1v1h-1zM193 679h1v1h-1zM276 679h1v1h-1zM457 679h2v1h-2zM476 679h1v1h-1zM518 679h2v1h-2zM521 679h2v1h-2zM537 679h1v1h-1zM576 679h1v1h-1zM592 679h1v1h-1zM698 679h1v1h-1zM717 679h1v1h-1zM838 679h1v1h-1zM886 679h1v1h-1zM909 679h1v1h-1zM942 679h2v1h-2zM945 679h2v1h-2zM962 679h4v1h-4zM1032 679h1v1h-1zM1087 679h1v1h-1zM1109 679h2v1h-2zM1113 679h2v1h-2zM1123 679h1v1h-1zM1137 679h2v1h-2zM1188 679h2v1h-2zM1195 679h1v1h-1zM1410 679h1v1h-1zM31 680h1v1h-1zM53 680h1v1h-1zM141 680h1v1h-1zM157 680h1v1h-1zM161 680h1v1h-1zM191 680h1v1h-1zM194 680h2v1h-2zM275 680h1v1h-1zM459 680h2v1h-2zM475 680h1v1h-1zM520 680h1v1h-1zM538 680h1v1h-1zM574 680h2v1h-2zM577 680h1v1h-1zM590 680h2v1h-2zM699 680h1v1h-1zM716 680h1v1h-1zM838 680h1v1h-1zM847 680h2v1h-2zM885 680h1v1h-1zM909 680h1v1h-1zM940 680h2v1h-2zM947 680h1v1h-1zM959 680h3v1h-3zM1033 680h2v1h-2zM1086 680h1v1h-1zM1111 680h2v1h-2zM1124 680h1v1h-1zM1136 680h1v1h-1zM1190 680h1v1h-1zM1194 680h1v1h-1zM1411 680h1v1h-1zM32 681h1v1h-1zM52 681h1v1h-1zM142 681h1v1h-1zM156 681h1v1h-1zM162 681h1v1h-1zM190 681h1v1h-1zM196 681h1v1h-1zM274 681h1v1h-1zM461 681h2v1h-2zM474 681h1v1h-1zM539 681h1v1h-1zM572 681h2v1h-2zM578 681h2v1h-2zM589 681h1v1h-1zM699 681h1v1h-1zM714 681h2v1h-2zM839 681h1v1h-1zM845 681h2v1h-2zM849 681h1v1h-1zM885 681h1v1h-1zM910 681h1v1h-1zM939 681h1v1h-1zM948 681h2v1h-2zM956 681h3v1h-3zM1035 681h1v1h-1zM1086 681h1v1h-1zM1124 681h1v1h-1zM1134 681h2v1h-2zM1191 681h1v1h-1zM1193 681h1v1h-1zM1412 681h1v1h-1zM33 682h2v1h-2zM52 682h1v1h-1zM143 682h1v1h-1zM154 682h2v1h-2zM162 682h1v1h-1zM189 682h1v1h-1zM197 682h1v1h-1zM273 682h1v1h-1zM463 682h3v1h-3zM474 682h1v1h-1zM540 682h2v1h-2zM571 682h1v1h-1zM580 682h1v1h-1zM588 682h1v1h-1zM700 682h1v1h-1zM713 682h1v1h-1zM839 682h1v1h-1zM843 682h2v1h-2zM850 682h2v1h-2zM884 682h1v1h-1zM910 682h1v1h-1zM937 682h2v1h-2zM950 682h2v1h-2zM954 682h2v1h-2zM1036 682h2v1h-2zM1085 682h1v1h-1zM1125 682h1v1h-1zM1132 682h2v1h-2zM1192 682h1v1h-1zM1412 682h1v1h-1zM35 683h2v1h-2zM51 683h1v1h-1zM144 683h4v1h-4zM153 683h1v1h-1zM163 683h1v1h-1zM188 683h1v1h-1zM198 683h2v1h-2zM272 683h1v1h-1zM466 683h4v1h-4zM473 683h1v1h-1zM542 683h1v1h-1zM569 683h2v1h-2zM581 683h1v1h-1zM586 683h2v1h-2zM701 683h1v1h-1zM712 683h1v1h-1zM840 683h3v1h-3zM852 683h1v1h-1zM884 683h1v1h-1zM911 683h1v1h-1zM934 683h3v1h-3zM952 683h2v1h-2zM1038 683h2v1h-2zM1085 683h1v1h-1zM1126 683h1v1h-1zM1131 683h1v1h-1zM1413 683h1v1h-1zM37 684h2v1h-2zM51 684h1v1h-1zM148 684h5v1h-5zM163 684h1v1h-1zM188 684h1v1h-1zM200 684h1v1h-1zM271 684h1v1h-1zM470 684h3v1h-3zM543 684h1v1h-1zM568 684h1v1h-1zM582 684h2v1h-2zM585 684h1v1h-1zM701 684h1v1h-1zM710 684h2v1h-2zM840 684h1v1h-1zM853 684h1v1h-1zM883 684h1v1h-1zM911 684h1v1h-1zM916 684h8v1h-8zM930 684h4v1h-4zM1040 684h1v1h-1zM1084 684h1v1h-1zM1127 684h1v1h-1zM1129 684h2v1h-2zM1414 684h1v1h-1zM39 685h2v1h-2zM50 685h1v1h-1zM164 685h1v1h-1zM187 685h1v1h-1zM201 685h1v1h-1zM270 685h1v1h-1zM544 685h1v1h-1zM567 685h1v1h-1zM584 685h1v1h-1zM702 685h1v1h-1zM708 685h2v1h-2zM854 685h2v1h-2zM883 685h1v1h-1zM912 685h4v1h-4zM924 685h6v1h-6zM1041 685h1v1h-1zM1063 685h2v1h-2zM1084 685h1v1h-1zM1128 685h1v1h-1zM1414 685h1v1h-1zM41 686h2v1h-2zM50 686h1v1h-1zM165 686h1v1h-1zM186 686h1v1h-1zM201 686h1v1h-1zM269 686h1v1h-1zM545 686h1v1h-1zM566 686h1v1h-1zM703 686h1v1h-1zM707 686h1v1h-1zM856 686h1v1h-1zM882 686h1v1h-1zM1042 686h1v1h-1zM1061 686h2v1h-2zM1065 686h2v1h-2zM1083 686h1v1h-1zM1415 686h1v1h-1zM43 687h1v1h-1zM49 687h1v1h-1zM165 687h1v1h-1zM185 687h1v1h-1zM202 687h1v1h-1zM268 687h1v1h-1zM546 687h2v1h-2zM566 687h1v1h-1zM703 687h1v1h-1zM705 687h2v1h-2zM857 687h1v1h-1zM882 687h1v1h-1zM1043 687h1v1h-1zM1059 687h2v1h-2zM1067 687h1v1h-1zM1083 687h1v1h-1zM1415 687h1v1h-1zM44 688h2v1h-2zM49 688h1v1h-1zM166 688h1v1h-1zM185 688h1v1h-1zM202 688h1v1h-1zM267 688h1v1h-1zM548 688h1v1h-1zM565 688h1v1h-1zM704 688h1v1h-1zM858 688h1v1h-1zM881 688h1v1h-1zM1044 688h1v1h-1zM1057 688h2v1h-2zM1068 688h2v1h-2zM1082 688h1v1h-1zM1416 688h1v1h-1zM46 689h3v1h-3zM166 689h1v1h-1zM184 689h1v1h-1zM203 689h1v1h-1zM231 689h3v1h-3zM266 689h1v1h-1zM549 689h1v1h-1zM564 689h1v1h-1zM859 689h1v1h-1zM881 689h1v1h-1zM1044 689h1v1h-1zM1055 689h2v1h-2zM1070 689h2v1h-2zM1082 689h1v1h-1zM48 690h1v1h-1zM167 690h1v1h-1zM183 690h1v1h-1zM204 690h1v1h-1zM229 690h2v1h-2zM234 690h2v1h-2zM265 690h1v1h-1zM550 690h2v1h-2zM563 690h1v1h-1zM860 690h2v1h-2zM879 690h2v1h-2zM1045 690h1v1h-1zM1053 690h2v1h-2zM1072 690h2v1h-2zM1081 690h1v1h-1zM167 691h1v1h-1zM182 691h1v1h-1zM204 691h1v1h-1zM227 691h2v1h-2zM236 691h3v1h-3zM263 691h2v1h-2zM552 691h2v1h-2zM562 691h1v1h-1zM862 691h1v1h-1zM877 691h2v1h-2zM1046 691h1v1h-1zM1051 691h2v1h-2zM1074 691h4v1h-4zM1081 691h1v1h-1zM168 692h1v1h-1zM181 692h1v1h-1zM205 692h1v1h-1zM225 692h2v1h-2zM239 692h3v1h-3zM260 692h3v1h-3zM554 692h2v1h-2zM562 692h1v1h-1zM863 692h1v1h-1zM875 692h2v1h-2zM1047 692h1v1h-1zM1049 692h2v1h-2zM1078 692h3v1h-3zM169 693h2v1h-2zM180 693h1v1h-1zM206 693h1v1h-1zM215 693h10v1h-10zM242 693h4v1h-4zM258 693h2v1h-2zM556 693h3v1h-3zM561 693h1v1h-1zM864 693h4v1h-4zM873 693h2v1h-2zM1048 693h1v1h-1zM171 694h1v1h-1zM179 694h1v1h-1zM206 694h1v1h-1zM213 694h2v1h-2zM246 694h12v1h-12zM559 694h2v1h-2zM868 694h5v1h-5zM172 695h2v1h-2zM178 695h1v1h-1zM207 695h1v1h-1zM211 695h2v1h-2zM174 696h2v1h-2zM177 696h1v1h-1zM207 696h1v1h-1zM209 696h2v1h-2zM176 697h1v1h-1zM208 697h1v1h-1zM285 666h1v1h-1zM315 666h2v1h-2zM330 666h1v1h-1zM434 666h2v1h-2zM487 666h1v1h-1zM489 666h1v1h-1zM597 666h1v1h-1zM606 666h1v1h-1zM618 666h4v1h-4zM644 666h1v1h-1zM664 666h12v1h-12zM684 666h5v1h-5zM741 666h1v1h-1zM791 666h1v1h-1zM831 666h2v1h-2zM983 666h1v1h-1zM1020 666h1v1h-1zM1165 666h1v1h-1zM1172 666h2v1h-2zM1272 666h18v1h-18zM1317 666h1v1h-1zM1329 666h2v1h-2zM1343 666h2v1h-2zM1358 666h2v1h-2zM285 665h1v1h-1zM313 665h2v1h-2zM331 665h1v1h-1zM431 665h3v1h-3zM488 665h1v1h-1zM597 665h1v1h-1zM606 665h1v1h-1zM622 665h6v1h-6zM643 665h1v1h-1zM676 665h8v1h-8zM742 665h1v1h-1zM791 665h1v1h-1zM983 665h1v1h-1zM1019 665h1v1h-1zM1166 665h1v1h-1zM1171 665h1v1h-1zM1290 665h4v1h-4zM1300 665h5v1h-5zM1317 665h1v1h-1zM1331 665h2v1h-2zM1340 665h3v1h-3zM1345 665h2v1h-2zM1356 665h2v1h-2zM286 664h1v1h-1zM311 664h2v1h-2zM332 664h2v1h-2zM351 664h3v1h-3zM428 664h3v1h-3zM598 664h1v1h-1zM605 664h1v1h-1zM628 664h5v1h-5zM643 664h1v1h-1zM743 664h1v1h-1zM790 664h1v1h-1zM984 664h10v1h-10zM1019 664h1v1h-1zM1167 664h1v1h-1zM1169 664h2v1h-2zM1294 664h6v1h-6zM1305 664h1v1h-1zM1316 664h1v1h-1zM1333 664h2v1h-2zM1338 664h2v1h-2zM1347 664h2v1h-2zM1355 664h1v1h-1zM286 663h1v1h-1zM309 663h2v1h-2zM334 663h1v1h-1zM349 663h2v1h-2zM354 663h2v1h-2zM426 663h2v1h-2zM598 663h1v1h-1zM604 663h1v1h-1zM633 663h2v1h-2zM642 663h1v1h-1zM743 663h1v1h-1zM789 663h1v1h-1zM994 663h4v1h-4zM1018 663h1v1h-1zM1168 663h1v1h-1zM1306 663h1v1h-1zM1315 663h1v1h-1zM1335 663h3v1h-3zM1349 663h2v1h-2zM1353 663h2v1h-2zM287 662h1v1h-1zM307 662h2v1h-2zM335 662h1v1h-1zM347 662h2v1h-2zM356 662h3v1h-3zM424 662h2v1h-2zM598 662h1v1h-1zM603 662h1v1h-1zM635 662h2v1h-2zM641 662h1v1h-1zM744 662h9v1h-9zM788 662h1v1h-1zM998 662h4v1h-4zM1017 662h1v1h-1zM1307 662h1v1h-1zM1315 662h1v1h-1zM1351 662h2v1h-2zM287 661h1v1h-1zM305 661h2v1h-2zM336 661h4v1h-4zM345 661h2v1h-2zM359 661h3v1h-3zM423 661h1v1h-1zM599 661h1v1h-1zM602 661h1v1h-1zM637 661h2v1h-2zM641 661h1v1h-1zM753 661h1v1h-1zM788 661h1v1h-1zM1002 661h2v1h-2zM1017 661h1v1h-1zM1308 661h1v1h-1zM1314 661h1v1h-1zM288 660h17v1h-17zM340 660h5v1h-5zM362 660h4v1h-4zM422 660h1v1h-1zM599 660h1v1h-1zM602 660h1v1h-1zM639 660h2v1h-2zM754 660h2v1h-2zM787 660h1v1h-1zM1004 660h3v1h-3zM1012 660h5v1h-5zM1309 660h1v1h-1zM1314 660h1v1h-1zM366 659h4v1h-4zM420 659h2v1h-2zM600 659h2v1h-2zM756 659h1v1h-1zM786 659h1v1h-1zM1007 659h5v1h-5zM1310 659h1v1h-1zM1313 659h1v1h-1zM370 658h4v1h-4zM419 658h1v1h-1zM600 658h1v1h-1zM757 658h1v1h-1zM785 658h1v1h-1zM1311 658h1v1h-1zM1313 658h1v1h-1zM374 657h6v1h-6zM418 657h1v1h-1zM758 657h2v1h-2zM785 657h1v1h-1zM1312 657h1v1h-1zM380 656h8v1h-8zM396 656h5v1h-5zM417 656h1v1h-1zM760 656h1v1h-1zM784 656h1v1h-1zM388 655h8v1h-8zM401 655h2v1h-2zM415 655h2v1h-2zM761 655h1v1h-1zM782 655h2v1h-2zM403 654h1v1h-1zM413 654h2v1h-2zM762 654h1v1h-1zM780 654h2v1h-2zM404 653h2v1h-2zM411 653h2v1h-2zM763 653h1v1h-1zM779 653h1v1h-1zM406 652h2v1h-2zM409 652h2v1h-2zM764 652h2v1h-2zM777 652h2v1h-2zM408 651h1v1h-1zM766 651h1v1h-1zM774 651h3v1h-3zM767 650h1v1h-1zM770 650h4v1h-4zM768 649h2v1h-2z" fill="#1e90ff" shape-rendering="crispEdges"/>
<g class="ax" fill="#000" font-size="9.8">
<rect x="1587" y="607" width="2" height="1"/><text x="1590" y="616" textLength="14" lengthAdjust="spacingAndGlyphs">100</text>
<rect x="1587" y="636" width="2" height="1"/><text x="1590" y="640" textLength="9.5" lengthAdjust="spacingAndGlyphs">80</text>
<rect x="1587" y="680" width="2" height="1"/><text x="1590" y="684" textLength="9.5" lengthAdjust="spacingAndGlyphs">50</text>
<rect x="1587" y="732" width="2" height="1"/><text x="1590" y="736" textLength="9.5" lengthAdjust="spacingAndGlyphs">15</text>
<rect x="1587" y="753" width="2" height="1"/><text x="1590" y="752" textLength="5" lengthAdjust="spacingAndGlyphs">0</text>
</g>
<g class="ax" fill="#000" font-size="9.7">
<rect x="0" y="756" width="1" height="3"/>
<text x="0" y="768" textLength="51" lengthAdjust="spacingAndGlyphs">26 Dec 2018</text>
<rect x="64" y="756" width="1" height="3"/>
<text x="63" y="768" textLength="55" lengthAdjust="spacingAndGlyphs">27 Dec 23:30</text>
<rect x="128" y="756" width="1" height="3"/>
<text x="127" y="768" textLength="55" lengthAdjust="spacingAndGlyphs">31 Dec 04:00</text>
<rect x="192" y="756" width="1" height="3"/>
<text x="191" y="768" textLength="48" lengthAdjust="spacingAndGlyphs">2 Jan 14:55</text>
<rect x="256" y="756" width="1" height="3"/>
<text x="255" y="768" textLength="48" lengthAdjust="spacingAndGlyphs">3 Jan 23:30</text>
<rect x="320" y="756" width="1" height="3"/>
<text x="319" y="768" textLength="48" lengthAdjust="spacingAndGlyphs">7 Jan 04:00</text>
<rect x="384" y="756" width="1" height="3"/>
<text x="383" y="768" textLength="48" lengthAdjust="spacingAndGlyphs">8 Jan 14:55</text>
<rect x="448" y="756" width="1" height="3"/>
<text x="447" y="768" textLength="48" lengthAdjust="spacingAndGlyphs">9 Jan 23:30</text>
<rect x="512" y="756" width="1" height="3"/>
<text x="511" y="768" textLength="52.5" lengthAdjust="spacingAndGlyphs">11 Jan 04:00</text>
<rect x="576" y="756" width="1" height="3"/>
<text x="575" y="768" textLength="52.5" lengthAdjust="spacingAndGlyphs">14 Jan 14:55</text>
<rect x="640" y="756" width="1" height="3"/>
<text x="639" y="768" textLength="52.5" lengthAdjust="spacingAndGlyphs">15 Jan 23:30</text>
<rect x="704" y="756" width="1" height="3"/>
<text x="703" y="768" textLength="52.5" lengthAdjust="spacingAndGlyphs">17 Jan 04:00</text>
<rect x="768" y="756" width="1" height="3"/>
<text x="767" y="768" textLength="52.5" lengthAdjust="spacingAndGlyphs">18 Jan 14:55</text>
<rect x="832" y="756" width="1" height="3"/>
<text x="831" y="768" textLength="52.5" lengthAdjust="spacingAndGlyphs">21 Jan 23:30</text>
<rect x="896" y="756" width="1" height="3"/>
<text x="895" y="768" textLength="52.5" lengthAdjust="spacingAndGlyphs">23 Jan 04:00</text>
<rect x="960" y="756" width="1" height="3"/>
<text x="959" y="768" textLength="52.5" lengthAdjust="spacingAndGlyphs">24 Jan 14:55</text>
<rect x="1024" y="756" width="1" height="3"/>
<text x="1023" y="768" textLength="52.5" lengthAdjust="spacingAndGlyphs">27 Jan 23:30</text>
<rect x="1088" y="756" width="1" height="3"/>
<text x="1087" y="768" textLength="52.5" lengthAdjust="spacingAndGlyphs">29 Jan 04:00</text>
<rect x="1152" y="756" width="1" height="3"/>
<text x="1151" y="768" textLength="52.5" lengthAdjust="spacingAndGlyphs">30 Jan 14:55</text>
<rect x="1216" y="756" width="1" height="3"/>
<text x="1215" y="768" textLength="52.5" lengthAdjust="spacingAndGlyphs">31 Jan 23:30</text>
<rect x="1280" y="756" width="1" height="3"/>
<text x="1279" y="768" textLength="50" lengthAdjust="spacingAndGlyphs">4 Feb 04:00</text>
<rect x="1344" y="756" width="1" height="3"/>
<text x="1343" y="768" textLength="50" lengthAdjust="spacingAndGlyphs">5 Feb 14:55</text>
<rect x="1408" y="756" width="1" height="3"/>
<text x="1407" y="768" textLength="50" lengthAdjust="spacingAndGlyphs">6 Feb 23:30</text>
</g>
</svg></body></html>
